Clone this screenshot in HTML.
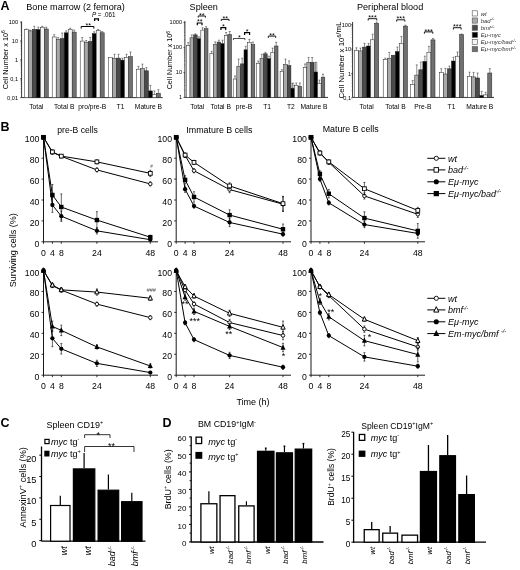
<!DOCTYPE html>
<html><head><meta charset="utf-8"><style>
html,body{margin:0;padding:0;background:#fff;}
svg{display:block;will-change:transform;}
text{font-family:"Liberation Sans", sans-serif;}
</style></head><body>
<svg width="520" height="570" viewBox="0 0 520 570" font-family='"Liberation Sans", sans-serif'>
<rect width="520" height="570" fill="#fff"/>
<text x="0.50" y="10.00" font-size="12.5" font-weight="bold">A</text>
<text x="26.30" y="9.60" font-size="9.1">Bone marrow (2 femora)</text>
<text x="189.60" y="9.60" font-size="9.1">Spleen</text>
<text x="357.00" y="9.60" font-size="9.1">Peripheral blood</text>
<line x1="21.60" y1="21.50" x2="21.60" y2="97.60" stroke="#000" stroke-width="0.8"/>
<line x1="20.10" y1="22.00" x2="21.60" y2="22.00" stroke="#000" stroke-width="0.6"/>
<text x="18.00" y="24.02" font-size="5.6" text-anchor="end">100</text>
<line x1="20.10" y1="40.90" x2="21.60" y2="40.90" stroke="#000" stroke-width="0.6"/>
<text x="18.00" y="42.92" font-size="5.6" text-anchor="end">10</text>
<line x1="20.10" y1="59.80" x2="21.60" y2="59.80" stroke="#000" stroke-width="0.6"/>
<text x="18.00" y="61.82" font-size="5.6" text-anchor="end">1</text>
<line x1="20.10" y1="78.70" x2="21.60" y2="78.70" stroke="#000" stroke-width="0.6"/>
<text x="18.00" y="80.72" font-size="5.6" text-anchor="end">0,1</text>
<line x1="20.10" y1="97.60" x2="21.60" y2="97.60" stroke="#000" stroke-width="0.6"/>
<text x="18.00" y="99.62" font-size="5.6" text-anchor="end">0,01</text>
<line x1="20.60" y1="91.91" x2="21.60" y2="91.91" stroke="#333" stroke-width="0.5"/>
<line x1="20.60" y1="88.58" x2="21.60" y2="88.58" stroke="#333" stroke-width="0.5"/>
<line x1="20.60" y1="86.22" x2="21.60" y2="86.22" stroke="#333" stroke-width="0.5"/>
<line x1="20.60" y1="84.39" x2="21.60" y2="84.39" stroke="#333" stroke-width="0.5"/>
<line x1="20.60" y1="82.89" x2="21.60" y2="82.89" stroke="#333" stroke-width="0.5"/>
<line x1="20.60" y1="81.63" x2="21.60" y2="81.63" stroke="#333" stroke-width="0.5"/>
<line x1="20.60" y1="80.53" x2="21.60" y2="80.53" stroke="#333" stroke-width="0.5"/>
<line x1="20.60" y1="79.56" x2="21.60" y2="79.56" stroke="#333" stroke-width="0.5"/>
<line x1="20.60" y1="73.01" x2="21.60" y2="73.01" stroke="#333" stroke-width="0.5"/>
<line x1="20.60" y1="69.68" x2="21.60" y2="69.68" stroke="#333" stroke-width="0.5"/>
<line x1="20.60" y1="67.32" x2="21.60" y2="67.32" stroke="#333" stroke-width="0.5"/>
<line x1="20.60" y1="65.49" x2="21.60" y2="65.49" stroke="#333" stroke-width="0.5"/>
<line x1="20.60" y1="63.99" x2="21.60" y2="63.99" stroke="#333" stroke-width="0.5"/>
<line x1="20.60" y1="62.73" x2="21.60" y2="62.73" stroke="#333" stroke-width="0.5"/>
<line x1="20.60" y1="61.63" x2="21.60" y2="61.63" stroke="#333" stroke-width="0.5"/>
<line x1="20.60" y1="60.66" x2="21.60" y2="60.66" stroke="#333" stroke-width="0.5"/>
<line x1="20.60" y1="54.11" x2="21.60" y2="54.11" stroke="#333" stroke-width="0.5"/>
<line x1="20.60" y1="50.78" x2="21.60" y2="50.78" stroke="#333" stroke-width="0.5"/>
<line x1="20.60" y1="48.42" x2="21.60" y2="48.42" stroke="#333" stroke-width="0.5"/>
<line x1="20.60" y1="46.59" x2="21.60" y2="46.59" stroke="#333" stroke-width="0.5"/>
<line x1="20.60" y1="45.09" x2="21.60" y2="45.09" stroke="#333" stroke-width="0.5"/>
<line x1="20.60" y1="43.83" x2="21.60" y2="43.83" stroke="#333" stroke-width="0.5"/>
<line x1="20.60" y1="42.73" x2="21.60" y2="42.73" stroke="#333" stroke-width="0.5"/>
<line x1="20.60" y1="41.76" x2="21.60" y2="41.76" stroke="#333" stroke-width="0.5"/>
<line x1="20.60" y1="35.21" x2="21.60" y2="35.21" stroke="#333" stroke-width="0.5"/>
<line x1="20.60" y1="31.88" x2="21.60" y2="31.88" stroke="#333" stroke-width="0.5"/>
<line x1="20.60" y1="29.52" x2="21.60" y2="29.52" stroke="#333" stroke-width="0.5"/>
<line x1="20.60" y1="27.69" x2="21.60" y2="27.69" stroke="#333" stroke-width="0.5"/>
<line x1="20.60" y1="26.19" x2="21.60" y2="26.19" stroke="#333" stroke-width="0.5"/>
<line x1="20.60" y1="24.93" x2="21.60" y2="24.93" stroke="#333" stroke-width="0.5"/>
<line x1="20.60" y1="23.83" x2="21.60" y2="23.83" stroke="#333" stroke-width="0.5"/>
<line x1="20.60" y1="22.86" x2="21.60" y2="22.86" stroke="#333" stroke-width="0.5"/>
<line x1="21.60" y1="97.60" x2="162.70" y2="97.60" stroke="#000" stroke-width="0.8"/>
<line x1="26.30" y1="29.50" x2="26.30" y2="29.00" stroke="#333" stroke-width="0.55"/>
<line x1="25.30" y1="29.00" x2="27.30" y2="29.00" stroke="#333" stroke-width="0.55"/>
<rect x="24.30" y="29.50" width="4.00" height="68.10" fill="#ffffff" stroke="#222" stroke-width="0.5"/>
<line x1="30.30" y1="30.90" x2="30.30" y2="30.10" stroke="#333" stroke-width="0.55"/>
<line x1="29.30" y1="30.10" x2="31.30" y2="30.10" stroke="#333" stroke-width="0.55"/>
<rect x="28.30" y="30.90" width="4.00" height="66.70" fill="#a8a8a8" stroke="#222" stroke-width="0.5"/>
<line x1="34.30" y1="29.30" x2="34.30" y2="26.30" stroke="#333" stroke-width="0.55"/>
<line x1="33.30" y1="26.30" x2="35.30" y2="26.30" stroke="#333" stroke-width="0.55"/>
<rect x="32.30" y="29.30" width="4.00" height="68.30" fill="#4a4a4a" stroke="#222" stroke-width="0.5"/>
<line x1="38.30" y1="29.50" x2="38.30" y2="27.20" stroke="#333" stroke-width="0.55"/>
<line x1="37.30" y1="27.20" x2="39.30" y2="27.20" stroke="#333" stroke-width="0.55"/>
<rect x="36.30" y="29.50" width="4.00" height="68.10" fill="#000000" stroke="#222" stroke-width="0.5"/>
<line x1="42.30" y1="27.20" x2="42.30" y2="26.30" stroke="#333" stroke-width="0.55"/>
<line x1="41.30" y1="26.30" x2="43.30" y2="26.30" stroke="#333" stroke-width="0.55"/>
<rect x="40.30" y="27.20" width="4.00" height="70.40" fill="#f4f4f4" stroke="#222" stroke-width="0.5"/>
<line x1="46.30" y1="29.00" x2="46.30" y2="27.20" stroke="#333" stroke-width="0.55"/>
<line x1="45.30" y1="27.20" x2="47.30" y2="27.20" stroke="#333" stroke-width="0.55"/>
<rect x="44.30" y="29.00" width="4.00" height="68.60" fill="#707070" stroke="#222" stroke-width="0.5"/>
<line x1="54.20" y1="37.00" x2="54.20" y2="34.70" stroke="#333" stroke-width="0.55"/>
<line x1="53.20" y1="34.70" x2="55.20" y2="34.70" stroke="#333" stroke-width="0.55"/>
<rect x="52.20" y="37.00" width="4.00" height="60.60" fill="#ffffff" stroke="#222" stroke-width="0.5"/>
<line x1="58.20" y1="39.30" x2="58.20" y2="37.60" stroke="#333" stroke-width="0.55"/>
<line x1="57.20" y1="37.60" x2="59.20" y2="37.60" stroke="#333" stroke-width="0.55"/>
<rect x="56.20" y="39.30" width="4.00" height="58.30" fill="#a8a8a8" stroke="#222" stroke-width="0.5"/>
<line x1="62.20" y1="38.50" x2="62.20" y2="33.00" stroke="#333" stroke-width="0.55"/>
<line x1="61.20" y1="33.00" x2="63.20" y2="33.00" stroke="#333" stroke-width="0.55"/>
<rect x="60.20" y="38.50" width="4.00" height="59.10" fill="#4a4a4a" stroke="#222" stroke-width="0.5"/>
<line x1="66.20" y1="32.80" x2="66.20" y2="30.90" stroke="#333" stroke-width="0.55"/>
<line x1="65.20" y1="30.90" x2="67.20" y2="30.90" stroke="#333" stroke-width="0.55"/>
<rect x="64.20" y="32.80" width="4.00" height="64.80" fill="#000000" stroke="#222" stroke-width="0.5"/>
<line x1="70.20" y1="29.50" x2="70.20" y2="28.20" stroke="#333" stroke-width="0.55"/>
<line x1="69.20" y1="28.20" x2="71.20" y2="28.20" stroke="#333" stroke-width="0.55"/>
<rect x="68.20" y="29.50" width="4.00" height="68.10" fill="#f4f4f4" stroke="#222" stroke-width="0.5"/>
<line x1="74.20" y1="32.10" x2="74.20" y2="30.10" stroke="#333" stroke-width="0.55"/>
<line x1="73.20" y1="30.10" x2="75.20" y2="30.10" stroke="#333" stroke-width="0.55"/>
<rect x="72.20" y="32.10" width="4.00" height="65.50" fill="#707070" stroke="#222" stroke-width="0.5"/>
<line x1="82.20" y1="41.10" x2="82.20" y2="37.60" stroke="#333" stroke-width="0.55"/>
<line x1="81.20" y1="37.60" x2="83.20" y2="37.60" stroke="#333" stroke-width="0.55"/>
<rect x="80.20" y="41.10" width="4.00" height="56.50" fill="#ffffff" stroke="#222" stroke-width="0.5"/>
<line x1="86.20" y1="42.50" x2="86.20" y2="40.50" stroke="#333" stroke-width="0.55"/>
<line x1="85.20" y1="40.50" x2="87.20" y2="40.50" stroke="#333" stroke-width="0.55"/>
<rect x="84.20" y="42.50" width="4.00" height="55.10" fill="#a8a8a8" stroke="#222" stroke-width="0.5"/>
<line x1="90.20" y1="41.40" x2="90.20" y2="37.40" stroke="#333" stroke-width="0.55"/>
<line x1="89.20" y1="37.40" x2="91.20" y2="37.40" stroke="#333" stroke-width="0.55"/>
<rect x="88.20" y="41.40" width="4.00" height="56.20" fill="#4a4a4a" stroke="#222" stroke-width="0.5"/>
<line x1="94.20" y1="33.60" x2="94.20" y2="31.80" stroke="#333" stroke-width="0.55"/>
<line x1="93.20" y1="31.80" x2="95.20" y2="31.80" stroke="#333" stroke-width="0.55"/>
<rect x="92.20" y="33.60" width="4.00" height="64.00" fill="#000000" stroke="#222" stroke-width="0.5"/>
<line x1="98.20" y1="30.70" x2="98.20" y2="29.50" stroke="#333" stroke-width="0.55"/>
<line x1="97.20" y1="29.50" x2="99.20" y2="29.50" stroke="#333" stroke-width="0.55"/>
<rect x="96.20" y="30.70" width="4.00" height="66.90" fill="#f4f4f4" stroke="#222" stroke-width="0.5"/>
<line x1="102.20" y1="32.80" x2="102.20" y2="31.60" stroke="#333" stroke-width="0.55"/>
<line x1="101.20" y1="31.60" x2="103.20" y2="31.60" stroke="#333" stroke-width="0.55"/>
<rect x="100.20" y="32.80" width="4.00" height="64.80" fill="#707070" stroke="#222" stroke-width="0.5"/>
<rect x="108.50" y="57.60" width="4.00" height="40.00" fill="#ffffff" stroke="#222" stroke-width="0.5"/>
<line x1="114.50" y1="58.40" x2="114.50" y2="54.30" stroke="#333" stroke-width="0.55"/>
<line x1="113.50" y1="54.30" x2="115.50" y2="54.30" stroke="#333" stroke-width="0.55"/>
<rect x="112.50" y="58.40" width="4.00" height="39.20" fill="#a8a8a8" stroke="#222" stroke-width="0.5"/>
<line x1="118.50" y1="58.10" x2="118.50" y2="54.30" stroke="#333" stroke-width="0.55"/>
<line x1="117.50" y1="54.30" x2="119.50" y2="54.30" stroke="#333" stroke-width="0.55"/>
<rect x="116.50" y="58.10" width="4.00" height="39.50" fill="#4a4a4a" stroke="#222" stroke-width="0.5"/>
<line x1="122.50" y1="60.10" x2="122.50" y2="58.10" stroke="#333" stroke-width="0.55"/>
<line x1="121.50" y1="58.10" x2="123.50" y2="58.10" stroke="#333" stroke-width="0.55"/>
<rect x="120.50" y="60.10" width="4.00" height="37.50" fill="#000000" stroke="#222" stroke-width="0.5"/>
<line x1="126.50" y1="57.60" x2="126.50" y2="54.30" stroke="#333" stroke-width="0.55"/>
<line x1="125.50" y1="54.30" x2="127.50" y2="54.30" stroke="#333" stroke-width="0.55"/>
<rect x="124.50" y="57.60" width="4.00" height="40.00" fill="#f4f4f4" stroke="#222" stroke-width="0.5"/>
<line x1="130.50" y1="56.60" x2="130.50" y2="52.00" stroke="#333" stroke-width="0.55"/>
<line x1="129.50" y1="52.00" x2="131.50" y2="52.00" stroke="#333" stroke-width="0.55"/>
<rect x="128.50" y="56.60" width="4.00" height="41.00" fill="#707070" stroke="#222" stroke-width="0.5"/>
<line x1="138.40" y1="69.20" x2="138.40" y2="66.40" stroke="#333" stroke-width="0.55"/>
<line x1="137.40" y1="66.40" x2="139.40" y2="66.40" stroke="#333" stroke-width="0.55"/>
<rect x="136.40" y="69.20" width="4.00" height="28.40" fill="#ffffff" stroke="#222" stroke-width="0.5"/>
<line x1="142.40" y1="68.40" x2="142.40" y2="64.10" stroke="#333" stroke-width="0.55"/>
<line x1="141.40" y1="64.10" x2="143.40" y2="64.10" stroke="#333" stroke-width="0.55"/>
<rect x="140.40" y="68.40" width="4.00" height="29.20" fill="#a8a8a8" stroke="#222" stroke-width="0.5"/>
<line x1="146.40" y1="70.80" x2="146.40" y2="67.60" stroke="#333" stroke-width="0.55"/>
<line x1="145.40" y1="67.60" x2="147.40" y2="67.60" stroke="#333" stroke-width="0.55"/>
<rect x="144.40" y="70.80" width="4.00" height="26.80" fill="#4a4a4a" stroke="#222" stroke-width="0.5"/>
<line x1="150.40" y1="90.90" x2="150.40" y2="85.40" stroke="#333" stroke-width="0.55"/>
<line x1="149.40" y1="85.40" x2="151.40" y2="85.40" stroke="#333" stroke-width="0.55"/>
<rect x="148.40" y="90.90" width="4.00" height="6.70" fill="#000000" stroke="#222" stroke-width="0.5"/>
<line x1="154.40" y1="94.40" x2="154.40" y2="90.90" stroke="#333" stroke-width="0.55"/>
<line x1="153.40" y1="90.90" x2="155.40" y2="90.90" stroke="#333" stroke-width="0.55"/>
<rect x="152.40" y="94.40" width="4.00" height="3.20" fill="#f4f4f4" stroke="#222" stroke-width="0.5"/>
<line x1="158.40" y1="93.20" x2="158.40" y2="89.70" stroke="#333" stroke-width="0.55"/>
<line x1="157.40" y1="89.70" x2="159.40" y2="89.70" stroke="#333" stroke-width="0.55"/>
<rect x="156.40" y="93.20" width="4.00" height="4.40" fill="#707070" stroke="#222" stroke-width="0.5"/>
<text x="7.60" y="59.70" font-size="7.3" text-anchor="middle" transform="rotate(-90 7.60 59.70)">Cell Number x 10<tspan font-size="5" dy="-2.6">6</tspan></text>
<text x="36.30" y="109.40" font-size="6.7" text-anchor="middle">Total</text>
<text x="64.20" y="109.40" font-size="6.7" text-anchor="middle">Total B</text>
<text x="92.20" y="109.40" font-size="6.7" text-anchor="middle">pro/pre-B</text>
<text x="120.50" y="109.40" font-size="6.7" text-anchor="middle">T1</text>
<text x="148.40" y="109.40" font-size="6.7" text-anchor="middle">Mature B</text>
<text x="91.90" y="16.70" font-size="6.3"><tspan font-style="italic">P</tspan> = .061</text>
<path d="M94.6,21 L94.6,18.8 L98.4,18.8 L98.4,21" fill="none" stroke="#000" stroke-width="1.3"/>
<polyline points="81.20,28.60 81.20,26.50 93.90,26.50 93.90,28.60" fill="none" stroke="#000" stroke-width="1.0"/>
<text x="88.20" y="27.97" font-size="7.2" text-anchor="middle">**</text>
<line x1="184.90" y1="21.00" x2="184.90" y2="97.40" stroke="#000" stroke-width="0.8"/>
<line x1="183.40" y1="22.40" x2="184.90" y2="22.40" stroke="#000" stroke-width="0.6"/>
<text x="182.00" y="24.42" font-size="5.6" text-anchor="end">1000</text>
<line x1="183.40" y1="47.40" x2="184.90" y2="47.40" stroke="#000" stroke-width="0.6"/>
<text x="182.00" y="49.42" font-size="5.6" text-anchor="end">100</text>
<line x1="183.40" y1="72.40" x2="184.90" y2="72.40" stroke="#000" stroke-width="0.6"/>
<text x="182.00" y="74.42" font-size="5.6" text-anchor="end">10</text>
<line x1="183.40" y1="97.40" x2="184.90" y2="97.40" stroke="#000" stroke-width="0.6"/>
<text x="182.00" y="99.42" font-size="5.6" text-anchor="end">1</text>
<line x1="183.90" y1="89.87" x2="184.90" y2="89.87" stroke="#333" stroke-width="0.5"/>
<line x1="183.90" y1="85.47" x2="184.90" y2="85.47" stroke="#333" stroke-width="0.5"/>
<line x1="183.90" y1="82.35" x2="184.90" y2="82.35" stroke="#333" stroke-width="0.5"/>
<line x1="183.90" y1="79.93" x2="184.90" y2="79.93" stroke="#333" stroke-width="0.5"/>
<line x1="183.90" y1="77.95" x2="184.90" y2="77.95" stroke="#333" stroke-width="0.5"/>
<line x1="183.90" y1="76.27" x2="184.90" y2="76.27" stroke="#333" stroke-width="0.5"/>
<line x1="183.90" y1="74.82" x2="184.90" y2="74.82" stroke="#333" stroke-width="0.5"/>
<line x1="183.90" y1="73.54" x2="184.90" y2="73.54" stroke="#333" stroke-width="0.5"/>
<line x1="183.90" y1="64.87" x2="184.90" y2="64.87" stroke="#333" stroke-width="0.5"/>
<line x1="183.90" y1="60.47" x2="184.90" y2="60.47" stroke="#333" stroke-width="0.5"/>
<line x1="183.90" y1="57.35" x2="184.90" y2="57.35" stroke="#333" stroke-width="0.5"/>
<line x1="183.90" y1="54.93" x2="184.90" y2="54.93" stroke="#333" stroke-width="0.5"/>
<line x1="183.90" y1="52.95" x2="184.90" y2="52.95" stroke="#333" stroke-width="0.5"/>
<line x1="183.90" y1="51.27" x2="184.90" y2="51.27" stroke="#333" stroke-width="0.5"/>
<line x1="183.90" y1="49.82" x2="184.90" y2="49.82" stroke="#333" stroke-width="0.5"/>
<line x1="183.90" y1="48.54" x2="184.90" y2="48.54" stroke="#333" stroke-width="0.5"/>
<line x1="183.90" y1="39.87" x2="184.90" y2="39.87" stroke="#333" stroke-width="0.5"/>
<line x1="183.90" y1="35.47" x2="184.90" y2="35.47" stroke="#333" stroke-width="0.5"/>
<line x1="183.90" y1="32.35" x2="184.90" y2="32.35" stroke="#333" stroke-width="0.5"/>
<line x1="183.90" y1="29.93" x2="184.90" y2="29.93" stroke="#333" stroke-width="0.5"/>
<line x1="183.90" y1="27.95" x2="184.90" y2="27.95" stroke="#333" stroke-width="0.5"/>
<line x1="183.90" y1="26.27" x2="184.90" y2="26.27" stroke="#333" stroke-width="0.5"/>
<line x1="183.90" y1="24.82" x2="184.90" y2="24.82" stroke="#333" stroke-width="0.5"/>
<line x1="183.90" y1="23.54" x2="184.90" y2="23.54" stroke="#333" stroke-width="0.5"/>
<line x1="184.90" y1="97.40" x2="328.00" y2="97.40" stroke="#000" stroke-width="0.8"/>
<rect x="290.90" y="83.00" width="3.60" height="5.20" fill="#d0d0d0" stroke="none" stroke-width="0"/>
<rect x="314.00" y="62.30" width="3.60" height="9.70" fill="#c8c8c8" stroke="none" stroke-width="0"/>
<line x1="188.20" y1="45.50" x2="188.20" y2="42.60" stroke="#333" stroke-width="0.55"/>
<line x1="187.20" y1="42.60" x2="189.20" y2="42.60" stroke="#333" stroke-width="0.55"/>
<rect x="186.40" y="45.50" width="3.60" height="51.90" fill="#ffffff" stroke="#222" stroke-width="0.5"/>
<line x1="191.80" y1="37.80" x2="191.80" y2="34.90" stroke="#333" stroke-width="0.55"/>
<line x1="190.80" y1="34.90" x2="192.80" y2="34.90" stroke="#333" stroke-width="0.55"/>
<rect x="190.00" y="37.80" width="3.60" height="59.60" fill="#a8a8a8" stroke="#222" stroke-width="0.5"/>
<line x1="195.40" y1="34.90" x2="195.40" y2="33.90" stroke="#333" stroke-width="0.55"/>
<line x1="194.40" y1="33.90" x2="196.40" y2="33.90" stroke="#333" stroke-width="0.55"/>
<rect x="193.60" y="34.90" width="3.60" height="62.50" fill="#4a4a4a" stroke="#222" stroke-width="0.5"/>
<line x1="199.00" y1="38.75" x2="199.00" y2="36.80" stroke="#333" stroke-width="0.55"/>
<line x1="198.00" y1="36.80" x2="200.00" y2="36.80" stroke="#333" stroke-width="0.55"/>
<rect x="197.20" y="38.75" width="3.60" height="58.65" fill="#000000" stroke="#222" stroke-width="0.5"/>
<line x1="202.60" y1="30.10" x2="202.60" y2="27.70" stroke="#333" stroke-width="0.55"/>
<line x1="201.60" y1="27.70" x2="203.60" y2="27.70" stroke="#333" stroke-width="0.55"/>
<rect x="200.80" y="30.10" width="3.60" height="67.30" fill="#f4f4f4" stroke="#222" stroke-width="0.5"/>
<line x1="206.20" y1="28.70" x2="206.20" y2="26.70" stroke="#333" stroke-width="0.55"/>
<line x1="205.20" y1="26.70" x2="207.20" y2="26.70" stroke="#333" stroke-width="0.55"/>
<rect x="204.40" y="28.70" width="3.60" height="68.70" fill="#707070" stroke="#222" stroke-width="0.5"/>
<line x1="211.70" y1="53.70" x2="211.70" y2="51.25" stroke="#333" stroke-width="0.55"/>
<line x1="210.70" y1="51.25" x2="212.70" y2="51.25" stroke="#333" stroke-width="0.55"/>
<rect x="209.90" y="53.70" width="3.60" height="43.70" fill="#ffffff" stroke="#222" stroke-width="0.5"/>
<line x1="215.30" y1="44.50" x2="215.30" y2="41.90" stroke="#333" stroke-width="0.55"/>
<line x1="214.30" y1="41.90" x2="216.30" y2="41.90" stroke="#333" stroke-width="0.55"/>
<rect x="213.50" y="44.50" width="3.60" height="52.90" fill="#a8a8a8" stroke="#222" stroke-width="0.5"/>
<line x1="218.90" y1="42.10" x2="218.90" y2="40.20" stroke="#333" stroke-width="0.55"/>
<line x1="217.90" y1="40.20" x2="219.90" y2="40.20" stroke="#333" stroke-width="0.55"/>
<rect x="217.10" y="42.10" width="3.60" height="55.30" fill="#4a4a4a" stroke="#222" stroke-width="0.5"/>
<line x1="222.50" y1="43.60" x2="222.50" y2="40.20" stroke="#333" stroke-width="0.55"/>
<line x1="221.50" y1="40.20" x2="223.50" y2="40.20" stroke="#333" stroke-width="0.55"/>
<rect x="220.70" y="43.60" width="3.60" height="53.80" fill="#000000" stroke="#222" stroke-width="0.5"/>
<line x1="226.10" y1="35.40" x2="226.10" y2="32.50" stroke="#333" stroke-width="0.55"/>
<line x1="225.10" y1="32.50" x2="227.10" y2="32.50" stroke="#333" stroke-width="0.55"/>
<rect x="224.30" y="35.40" width="3.60" height="62.00" fill="#f4f4f4" stroke="#222" stroke-width="0.5"/>
<line x1="229.70" y1="34.40" x2="229.70" y2="31.50" stroke="#333" stroke-width="0.55"/>
<line x1="228.70" y1="31.50" x2="230.70" y2="31.50" stroke="#333" stroke-width="0.55"/>
<rect x="227.90" y="34.40" width="3.60" height="63.00" fill="#707070" stroke="#222" stroke-width="0.5"/>
<line x1="235.00" y1="79.00" x2="235.00" y2="76.00" stroke="#333" stroke-width="0.55"/>
<line x1="234.00" y1="76.00" x2="236.00" y2="76.00" stroke="#333" stroke-width="0.55"/>
<rect x="233.20" y="79.00" width="3.60" height="18.40" fill="#ffffff" stroke="#222" stroke-width="0.5"/>
<line x1="238.60" y1="66.30" x2="238.60" y2="59.10" stroke="#333" stroke-width="0.55"/>
<line x1="237.60" y1="59.10" x2="239.60" y2="59.10" stroke="#333" stroke-width="0.55"/>
<rect x="236.80" y="66.30" width="3.60" height="31.10" fill="#a8a8a8" stroke="#222" stroke-width="0.5"/>
<line x1="242.20" y1="63.90" x2="242.20" y2="58.20" stroke="#333" stroke-width="0.55"/>
<line x1="241.20" y1="58.20" x2="243.20" y2="58.20" stroke="#333" stroke-width="0.55"/>
<rect x="240.40" y="63.90" width="3.60" height="33.50" fill="#4a4a4a" stroke="#222" stroke-width="0.5"/>
<line x1="245.80" y1="49.80" x2="245.80" y2="46.20" stroke="#333" stroke-width="0.55"/>
<line x1="244.80" y1="46.20" x2="246.80" y2="46.20" stroke="#333" stroke-width="0.55"/>
<rect x="244.00" y="49.80" width="3.60" height="47.60" fill="#000000" stroke="#222" stroke-width="0.5"/>
<line x1="249.40" y1="42.30" x2="249.40" y2="39.40" stroke="#333" stroke-width="0.55"/>
<line x1="248.40" y1="39.40" x2="250.40" y2="39.40" stroke="#333" stroke-width="0.55"/>
<rect x="247.60" y="42.30" width="3.60" height="55.10" fill="#f4f4f4" stroke="#222" stroke-width="0.5"/>
<line x1="253.00" y1="44.70" x2="253.00" y2="42.10" stroke="#333" stroke-width="0.55"/>
<line x1="252.00" y1="42.10" x2="254.00" y2="42.10" stroke="#333" stroke-width="0.55"/>
<rect x="251.20" y="44.70" width="3.60" height="52.70" fill="#707070" stroke="#222" stroke-width="0.5"/>
<line x1="258.20" y1="63.30" x2="258.20" y2="61.10" stroke="#333" stroke-width="0.55"/>
<line x1="257.20" y1="61.10" x2="259.20" y2="61.10" stroke="#333" stroke-width="0.55"/>
<rect x="256.40" y="63.30" width="3.60" height="34.10" fill="#ffffff" stroke="#222" stroke-width="0.5"/>
<line x1="261.80" y1="58.50" x2="261.80" y2="54.30" stroke="#333" stroke-width="0.55"/>
<line x1="260.80" y1="54.30" x2="262.80" y2="54.30" stroke="#333" stroke-width="0.55"/>
<rect x="260.00" y="58.50" width="3.60" height="38.90" fill="#a8a8a8" stroke="#222" stroke-width="0.5"/>
<line x1="265.40" y1="53.80" x2="265.40" y2="52.40" stroke="#333" stroke-width="0.55"/>
<line x1="264.40" y1="52.40" x2="266.40" y2="52.40" stroke="#333" stroke-width="0.55"/>
<rect x="263.60" y="53.80" width="3.60" height="43.60" fill="#4a4a4a" stroke="#222" stroke-width="0.5"/>
<line x1="269.00" y1="58.70" x2="269.00" y2="56.25" stroke="#333" stroke-width="0.55"/>
<line x1="268.00" y1="56.25" x2="270.00" y2="56.25" stroke="#333" stroke-width="0.55"/>
<rect x="267.20" y="58.70" width="3.60" height="38.70" fill="#000000" stroke="#222" stroke-width="0.5"/>
<line x1="272.60" y1="52.40" x2="272.60" y2="48.10" stroke="#333" stroke-width="0.55"/>
<line x1="271.60" y1="48.10" x2="273.60" y2="48.10" stroke="#333" stroke-width="0.55"/>
<rect x="270.80" y="52.40" width="3.60" height="45.00" fill="#f4f4f4" stroke="#222" stroke-width="0.5"/>
<line x1="276.20" y1="46.00" x2="276.20" y2="42.30" stroke="#333" stroke-width="0.55"/>
<line x1="275.20" y1="42.30" x2="277.20" y2="42.30" stroke="#333" stroke-width="0.55"/>
<rect x="274.40" y="46.00" width="3.60" height="51.40" fill="#707070" stroke="#222" stroke-width="0.5"/>
<line x1="281.90" y1="71.30" x2="281.90" y2="69.70" stroke="#333" stroke-width="0.55"/>
<line x1="280.90" y1="69.70" x2="282.90" y2="69.70" stroke="#333" stroke-width="0.55"/>
<rect x="280.10" y="71.30" width="3.60" height="26.10" fill="#ffffff" stroke="#222" stroke-width="0.5"/>
<line x1="285.50" y1="64.50" x2="285.50" y2="59.10" stroke="#333" stroke-width="0.55"/>
<line x1="284.50" y1="59.10" x2="286.50" y2="59.10" stroke="#333" stroke-width="0.55"/>
<rect x="283.70" y="64.50" width="3.60" height="32.90" fill="#a8a8a8" stroke="#222" stroke-width="0.5"/>
<line x1="289.10" y1="65.60" x2="289.10" y2="60.90" stroke="#333" stroke-width="0.55"/>
<line x1="288.10" y1="60.90" x2="290.10" y2="60.90" stroke="#333" stroke-width="0.55"/>
<rect x="287.30" y="65.60" width="3.60" height="31.80" fill="#4a4a4a" stroke="#222" stroke-width="0.5"/>
<line x1="292.70" y1="88.20" x2="292.70" y2="83.00" stroke="#333" stroke-width="0.55"/>
<line x1="291.70" y1="83.00" x2="293.70" y2="83.00" stroke="#333" stroke-width="0.55"/>
<rect x="290.90" y="88.20" width="3.60" height="9.20" fill="#000000" stroke="#222" stroke-width="0.5"/>
<line x1="296.30" y1="85.30" x2="296.30" y2="83.00" stroke="#333" stroke-width="0.55"/>
<line x1="295.30" y1="83.00" x2="297.30" y2="83.00" stroke="#333" stroke-width="0.55"/>
<rect x="294.50" y="85.30" width="3.60" height="12.10" fill="#f4f4f4" stroke="#222" stroke-width="0.5"/>
<line x1="299.90" y1="86.30" x2="299.90" y2="83.00" stroke="#333" stroke-width="0.55"/>
<line x1="298.90" y1="83.00" x2="300.90" y2="83.00" stroke="#333" stroke-width="0.55"/>
<rect x="298.10" y="86.30" width="3.60" height="11.10" fill="#707070" stroke="#222" stroke-width="0.5"/>
<line x1="305.00" y1="67.70" x2="305.00" y2="64.00" stroke="#333" stroke-width="0.55"/>
<line x1="304.00" y1="64.00" x2="306.00" y2="64.00" stroke="#333" stroke-width="0.55"/>
<rect x="303.20" y="67.70" width="3.60" height="29.70" fill="#ffffff" stroke="#222" stroke-width="0.5"/>
<line x1="308.60" y1="62.30" x2="308.60" y2="57.50" stroke="#333" stroke-width="0.55"/>
<line x1="307.60" y1="57.50" x2="309.60" y2="57.50" stroke="#333" stroke-width="0.55"/>
<rect x="306.80" y="62.30" width="3.60" height="35.10" fill="#a8a8a8" stroke="#222" stroke-width="0.5"/>
<line x1="312.20" y1="62.30" x2="312.20" y2="57.50" stroke="#333" stroke-width="0.55"/>
<line x1="311.20" y1="57.50" x2="313.20" y2="57.50" stroke="#333" stroke-width="0.55"/>
<rect x="310.40" y="62.30" width="3.60" height="35.10" fill="#4a4a4a" stroke="#222" stroke-width="0.5"/>
<line x1="315.80" y1="72.00" x2="315.80" y2="62.30" stroke="#333" stroke-width="0.55"/>
<line x1="314.80" y1="62.30" x2="316.80" y2="62.30" stroke="#333" stroke-width="0.55"/>
<rect x="314.00" y="72.00" width="3.60" height="25.40" fill="#000000" stroke="#222" stroke-width="0.5"/>
<line x1="319.40" y1="83.40" x2="319.40" y2="80.10" stroke="#333" stroke-width="0.55"/>
<line x1="318.40" y1="80.10" x2="320.40" y2="80.10" stroke="#333" stroke-width="0.55"/>
<rect x="317.60" y="83.40" width="3.60" height="14.00" fill="#f4f4f4" stroke="#222" stroke-width="0.5"/>
<line x1="323.00" y1="77.20" x2="323.00" y2="74.10" stroke="#333" stroke-width="0.55"/>
<line x1="322.00" y1="74.10" x2="324.00" y2="74.10" stroke="#333" stroke-width="0.55"/>
<rect x="321.20" y="77.20" width="3.60" height="20.20" fill="#707070" stroke="#222" stroke-width="0.5"/>
<text x="172.50" y="60.20" font-size="7.2" text-anchor="middle" transform="rotate(-90 172.50 60.20)">Cell Number x 10<tspan font-size="5" dy="-2.6">6</tspan></text>
<text x="197.20" y="109.40" font-size="6.7" text-anchor="middle">Total</text>
<text x="220.70" y="109.40" font-size="6.7" text-anchor="middle">Total B</text>
<text x="244.00" y="109.40" font-size="6.7" text-anchor="middle">pre-B</text>
<text x="267.20" y="109.40" font-size="6.7" text-anchor="middle">T1</text>
<text x="290.90" y="109.40" font-size="6.7" text-anchor="middle">T2</text>
<text x="314.00" y="109.40" font-size="6.7" text-anchor="middle">Mature B</text>
<polyline points="198.20,17.60 198.20,16.00 205.40,16.00 205.40,17.60" fill="none" stroke="#000" stroke-width="0.9"/>
<text x="201.80" y="17.67" font-size="7.2" text-anchor="middle">**</text>
<text x="199.70" y="24.47" font-size="7.2" text-anchor="middle">**</text>
<path d="M197.3,25.2 L197.3,23.0 L202.0,23.0 L202.0,25.2" fill="none" stroke="#000" stroke-width="1.2"/>
<polyline points="221.30,21.00 221.30,19.40 229.00,19.40 229.00,21.00" fill="none" stroke="#000" stroke-width="0.9"/>
<text x="225.20" y="20.87" font-size="7.2" text-anchor="middle">**</text>
<text x="223.30" y="28.87" font-size="7.2" text-anchor="middle">*</text>
<path d="M220.9,30.0 L220.9,27.6 L225.7,27.6 L225.7,30.0" fill="none" stroke="#000" stroke-width="1.2"/>
<polyline points="233.40,40.10 233.40,38.50 244.90,38.50 244.90,40.10" fill="none" stroke="#000" stroke-width="0.7"/>
<text x="239.40" y="39.67" font-size="7.2" text-anchor="middle">*</text>
<text x="247.20" y="33.97" font-size="7.2" text-anchor="middle">*</text>
<path d="M244.6,35.0 L244.6,32.6 L249.6,32.6 L249.6,35.0" fill="none" stroke="#000" stroke-width="1.2"/>
<polyline points="268.30,37.90 268.30,36.10 275.70,36.10 275.70,37.90" fill="none" stroke="#000" stroke-width="0.9"/>
<text x="272.00" y="37.67" font-size="7.2" text-anchor="middle">**</text>
<line x1="352.60" y1="22.00" x2="352.60" y2="97.40" stroke="#000" stroke-width="0.8"/>
<line x1="351.10" y1="24.70" x2="352.60" y2="24.70" stroke="#000" stroke-width="0.6"/>
<text x="351.00" y="26.72" font-size="5.6" text-anchor="end">100</text>
<line x1="351.10" y1="49.10" x2="352.60" y2="49.10" stroke="#000" stroke-width="0.6"/>
<text x="351.00" y="51.12" font-size="5.6" text-anchor="end">10</text>
<line x1="351.10" y1="73.50" x2="352.60" y2="73.50" stroke="#000" stroke-width="0.6"/>
<text x="351.00" y="75.52" font-size="5.6" text-anchor="end">1</text>
<line x1="351.10" y1="97.90" x2="352.60" y2="97.90" stroke="#000" stroke-width="0.6"/>
<text x="351.00" y="99.92" font-size="5.6" text-anchor="end">0,1</text>
<line x1="351.60" y1="90.55" x2="352.60" y2="90.55" stroke="#333" stroke-width="0.5"/>
<line x1="351.60" y1="86.26" x2="352.60" y2="86.26" stroke="#333" stroke-width="0.5"/>
<line x1="351.60" y1="83.21" x2="352.60" y2="83.21" stroke="#333" stroke-width="0.5"/>
<line x1="351.60" y1="80.85" x2="352.60" y2="80.85" stroke="#333" stroke-width="0.5"/>
<line x1="351.60" y1="78.91" x2="352.60" y2="78.91" stroke="#333" stroke-width="0.5"/>
<line x1="351.60" y1="77.28" x2="352.60" y2="77.28" stroke="#333" stroke-width="0.5"/>
<line x1="351.60" y1="75.86" x2="352.60" y2="75.86" stroke="#333" stroke-width="0.5"/>
<line x1="351.60" y1="74.62" x2="352.60" y2="74.62" stroke="#333" stroke-width="0.5"/>
<line x1="351.60" y1="66.15" x2="352.60" y2="66.15" stroke="#333" stroke-width="0.5"/>
<line x1="351.60" y1="61.86" x2="352.60" y2="61.86" stroke="#333" stroke-width="0.5"/>
<line x1="351.60" y1="58.81" x2="352.60" y2="58.81" stroke="#333" stroke-width="0.5"/>
<line x1="351.60" y1="56.45" x2="352.60" y2="56.45" stroke="#333" stroke-width="0.5"/>
<line x1="351.60" y1="54.51" x2="352.60" y2="54.51" stroke="#333" stroke-width="0.5"/>
<line x1="351.60" y1="52.88" x2="352.60" y2="52.88" stroke="#333" stroke-width="0.5"/>
<line x1="351.60" y1="51.46" x2="352.60" y2="51.46" stroke="#333" stroke-width="0.5"/>
<line x1="351.60" y1="50.22" x2="352.60" y2="50.22" stroke="#333" stroke-width="0.5"/>
<line x1="351.60" y1="41.75" x2="352.60" y2="41.75" stroke="#333" stroke-width="0.5"/>
<line x1="351.60" y1="37.46" x2="352.60" y2="37.46" stroke="#333" stroke-width="0.5"/>
<line x1="351.60" y1="34.41" x2="352.60" y2="34.41" stroke="#333" stroke-width="0.5"/>
<line x1="351.60" y1="32.05" x2="352.60" y2="32.05" stroke="#333" stroke-width="0.5"/>
<line x1="351.60" y1="30.11" x2="352.60" y2="30.11" stroke="#333" stroke-width="0.5"/>
<line x1="351.60" y1="28.48" x2="352.60" y2="28.48" stroke="#333" stroke-width="0.5"/>
<line x1="351.60" y1="27.06" x2="352.60" y2="27.06" stroke="#333" stroke-width="0.5"/>
<line x1="351.60" y1="25.82" x2="352.60" y2="25.82" stroke="#333" stroke-width="0.5"/>
<line x1="352.60" y1="97.40" x2="494.00" y2="97.40" stroke="#000" stroke-width="0.8"/>
<line x1="356.42" y1="50.40" x2="356.42" y2="47.80" stroke="#333" stroke-width="0.55"/>
<line x1="355.42" y1="47.80" x2="357.42" y2="47.80" stroke="#333" stroke-width="0.55"/>
<rect x="354.40" y="50.40" width="4.05" height="47.00" fill="#ffffff" stroke="#222" stroke-width="0.5"/>
<line x1="360.47" y1="50.90" x2="360.47" y2="48.10" stroke="#333" stroke-width="0.55"/>
<line x1="359.47" y1="48.10" x2="361.47" y2="48.10" stroke="#333" stroke-width="0.55"/>
<rect x="358.45" y="50.90" width="4.05" height="46.50" fill="#a8a8a8" stroke="#222" stroke-width="0.5"/>
<line x1="364.52" y1="47.10" x2="364.52" y2="43.40" stroke="#333" stroke-width="0.55"/>
<line x1="363.52" y1="43.40" x2="365.52" y2="43.40" stroke="#333" stroke-width="0.55"/>
<rect x="362.50" y="47.10" width="4.05" height="50.30" fill="#4a4a4a" stroke="#222" stroke-width="0.5"/>
<line x1="368.57" y1="46.00" x2="368.57" y2="43.40" stroke="#333" stroke-width="0.55"/>
<line x1="367.57" y1="43.40" x2="369.57" y2="43.40" stroke="#333" stroke-width="0.55"/>
<rect x="366.55" y="46.00" width="4.05" height="51.40" fill="#000000" stroke="#222" stroke-width="0.5"/>
<line x1="372.62" y1="39.80" x2="372.62" y2="34.20" stroke="#333" stroke-width="0.55"/>
<line x1="371.62" y1="34.20" x2="373.62" y2="34.20" stroke="#333" stroke-width="0.55"/>
<rect x="370.60" y="39.80" width="4.05" height="57.60" fill="#f4f4f4" stroke="#222" stroke-width="0.5"/>
<line x1="376.67" y1="23.30" x2="376.67" y2="22.10" stroke="#333" stroke-width="0.55"/>
<line x1="375.67" y1="22.10" x2="377.67" y2="22.10" stroke="#333" stroke-width="0.55"/>
<rect x="374.65" y="23.30" width="4.05" height="74.10" fill="#707070" stroke="#222" stroke-width="0.5"/>
<line x1="385.22" y1="59.60" x2="385.22" y2="58.20" stroke="#333" stroke-width="0.55"/>
<line x1="384.22" y1="58.20" x2="386.22" y2="58.20" stroke="#333" stroke-width="0.55"/>
<rect x="383.20" y="59.60" width="4.05" height="37.80" fill="#ffffff" stroke="#222" stroke-width="0.5"/>
<line x1="389.27" y1="58.20" x2="389.27" y2="52.40" stroke="#333" stroke-width="0.55"/>
<line x1="388.27" y1="52.40" x2="390.27" y2="52.40" stroke="#333" stroke-width="0.55"/>
<rect x="387.25" y="58.20" width="4.05" height="39.20" fill="#a8a8a8" stroke="#222" stroke-width="0.5"/>
<rect x="391.30" y="55.20" width="4.05" height="42.20" fill="#4a4a4a" stroke="#222" stroke-width="0.5"/>
<line x1="397.37" y1="51.50" x2="397.37" y2="47.10" stroke="#333" stroke-width="0.55"/>
<line x1="396.37" y1="47.10" x2="398.37" y2="47.10" stroke="#333" stroke-width="0.55"/>
<rect x="395.35" y="51.50" width="4.05" height="45.90" fill="#000000" stroke="#222" stroke-width="0.5"/>
<line x1="401.42" y1="43.40" x2="401.42" y2="36.50" stroke="#333" stroke-width="0.55"/>
<line x1="400.42" y1="36.50" x2="402.42" y2="36.50" stroke="#333" stroke-width="0.55"/>
<rect x="399.40" y="43.40" width="4.05" height="54.00" fill="#f4f4f4" stroke="#222" stroke-width="0.5"/>
<line x1="405.47" y1="26.10" x2="405.47" y2="25.20" stroke="#333" stroke-width="0.55"/>
<line x1="404.47" y1="25.20" x2="406.47" y2="25.20" stroke="#333" stroke-width="0.55"/>
<rect x="403.45" y="26.10" width="4.05" height="71.30" fill="#707070" stroke="#222" stroke-width="0.5"/>
<line x1="412.72" y1="84.50" x2="412.72" y2="80.60" stroke="#333" stroke-width="0.55"/>
<line x1="411.72" y1="80.60" x2="413.72" y2="80.60" stroke="#333" stroke-width="0.55"/>
<rect x="410.70" y="84.50" width="4.05" height="12.90" fill="#ffffff" stroke="#222" stroke-width="0.5"/>
<line x1="416.77" y1="75.10" x2="416.77" y2="64.90" stroke="#333" stroke-width="0.55"/>
<line x1="415.77" y1="64.90" x2="417.77" y2="64.90" stroke="#333" stroke-width="0.55"/>
<rect x="414.75" y="75.10" width="4.05" height="22.30" fill="#a8a8a8" stroke="#222" stroke-width="0.5"/>
<line x1="420.82" y1="69.80" x2="420.82" y2="62.10" stroke="#333" stroke-width="0.55"/>
<line x1="419.82" y1="62.10" x2="421.82" y2="62.10" stroke="#333" stroke-width="0.55"/>
<rect x="418.80" y="69.80" width="4.05" height="27.60" fill="#4a4a4a" stroke="#222" stroke-width="0.5"/>
<line x1="424.87" y1="61.40" x2="424.87" y2="56.20" stroke="#333" stroke-width="0.55"/>
<line x1="423.87" y1="56.20" x2="425.87" y2="56.20" stroke="#333" stroke-width="0.55"/>
<rect x="422.85" y="61.40" width="4.05" height="36.00" fill="#000000" stroke="#222" stroke-width="0.5"/>
<line x1="428.92" y1="52.30" x2="428.92" y2="46.40" stroke="#333" stroke-width="0.55"/>
<line x1="427.92" y1="46.40" x2="429.92" y2="46.40" stroke="#333" stroke-width="0.55"/>
<rect x="426.90" y="52.30" width="4.05" height="45.10" fill="#f4f4f4" stroke="#222" stroke-width="0.5"/>
<line x1="432.97" y1="39.90" x2="432.97" y2="38.50" stroke="#333" stroke-width="0.55"/>
<line x1="431.97" y1="38.50" x2="433.97" y2="38.50" stroke="#333" stroke-width="0.55"/>
<rect x="430.95" y="39.90" width="4.05" height="57.50" fill="#707070" stroke="#222" stroke-width="0.5"/>
<line x1="441.32" y1="72.60" x2="441.32" y2="68.80" stroke="#333" stroke-width="0.55"/>
<line x1="440.32" y1="68.80" x2="442.32" y2="68.80" stroke="#333" stroke-width="0.55"/>
<rect x="439.30" y="72.60" width="4.05" height="24.80" fill="#ffffff" stroke="#222" stroke-width="0.5"/>
<line x1="445.38" y1="74.00" x2="445.38" y2="68.40" stroke="#333" stroke-width="0.55"/>
<line x1="444.38" y1="68.40" x2="446.38" y2="68.40" stroke="#333" stroke-width="0.55"/>
<rect x="443.35" y="74.00" width="4.05" height="23.40" fill="#a8a8a8" stroke="#222" stroke-width="0.5"/>
<line x1="449.43" y1="68.80" x2="449.43" y2="66.00" stroke="#333" stroke-width="0.55"/>
<line x1="448.43" y1="66.00" x2="450.43" y2="66.00" stroke="#333" stroke-width="0.55"/>
<rect x="447.40" y="68.80" width="4.05" height="28.60" fill="#4a4a4a" stroke="#222" stroke-width="0.5"/>
<line x1="453.47" y1="61.00" x2="453.47" y2="57.20" stroke="#333" stroke-width="0.55"/>
<line x1="452.47" y1="57.20" x2="454.47" y2="57.20" stroke="#333" stroke-width="0.55"/>
<rect x="451.45" y="61.00" width="4.05" height="36.40" fill="#000000" stroke="#222" stroke-width="0.5"/>
<line x1="457.52" y1="56.20" x2="457.52" y2="52.00" stroke="#333" stroke-width="0.55"/>
<line x1="456.52" y1="52.00" x2="458.52" y2="52.00" stroke="#333" stroke-width="0.55"/>
<rect x="455.50" y="56.20" width="4.05" height="41.20" fill="#f4f4f4" stroke="#222" stroke-width="0.5"/>
<line x1="461.57" y1="34.70" x2="461.57" y2="34.00" stroke="#333" stroke-width="0.55"/>
<line x1="460.57" y1="34.00" x2="462.57" y2="34.00" stroke="#333" stroke-width="0.55"/>
<rect x="459.55" y="34.70" width="4.05" height="62.70" fill="#707070" stroke="#222" stroke-width="0.5"/>
<line x1="469.52" y1="76.50" x2="469.52" y2="72.10" stroke="#333" stroke-width="0.55"/>
<line x1="468.52" y1="72.10" x2="470.52" y2="72.10" stroke="#333" stroke-width="0.55"/>
<rect x="467.50" y="76.50" width="4.05" height="20.90" fill="#ffffff" stroke="#222" stroke-width="0.5"/>
<line x1="473.57" y1="76.90" x2="473.57" y2="72.40" stroke="#333" stroke-width="0.55"/>
<line x1="472.57" y1="72.40" x2="474.57" y2="72.40" stroke="#333" stroke-width="0.55"/>
<rect x="471.55" y="76.90" width="4.05" height="20.50" fill="#a8a8a8" stroke="#222" stroke-width="0.5"/>
<line x1="477.62" y1="78.00" x2="477.62" y2="73.00" stroke="#333" stroke-width="0.55"/>
<line x1="476.62" y1="73.00" x2="478.62" y2="73.00" stroke="#333" stroke-width="0.55"/>
<rect x="475.60" y="78.00" width="4.05" height="19.40" fill="#4a4a4a" stroke="#222" stroke-width="0.5"/>
<line x1="481.67" y1="95.50" x2="481.67" y2="91.40" stroke="#333" stroke-width="0.55"/>
<line x1="480.67" y1="91.40" x2="482.67" y2="91.40" stroke="#333" stroke-width="0.55"/>
<rect x="479.65" y="95.50" width="4.05" height="1.90" fill="#000000" stroke="#222" stroke-width="0.5"/>
<line x1="485.72" y1="94.90" x2="485.72" y2="92.30" stroke="#333" stroke-width="0.55"/>
<line x1="484.72" y1="92.30" x2="486.72" y2="92.30" stroke="#333" stroke-width="0.55"/>
<rect x="483.70" y="94.90" width="4.05" height="2.50" fill="#f4f4f4" stroke="#222" stroke-width="0.5"/>
<line x1="489.77" y1="73.00" x2="489.77" y2="68.60" stroke="#333" stroke-width="0.55"/>
<line x1="488.77" y1="68.60" x2="490.77" y2="68.60" stroke="#333" stroke-width="0.55"/>
<rect x="487.75" y="73.00" width="4.05" height="24.40" fill="#707070" stroke="#222" stroke-width="0.5"/>
<text x="344.00" y="60.00" font-size="7.9" text-anchor="middle" transform="rotate(-90 344.00 60.00)">Cell Number x 10<tspan font-size="5" dy="-2.6">6</tspan>/mL</text>
<text x="366.60" y="109.40" font-size="6.7" text-anchor="middle">Total</text>
<text x="395.40" y="109.40" font-size="6.7" text-anchor="middle">Total B</text>
<text x="422.90" y="109.40" font-size="6.7" text-anchor="middle">Pre-B</text>
<text x="451.50" y="109.40" font-size="6.7" text-anchor="middle">T1</text>
<text x="479.70" y="109.40" font-size="6.7" text-anchor="middle">Mature B</text>
<polyline points="368.20,20.50 368.20,18.70 376.80,18.70 376.80,20.50" fill="none" stroke="#000" stroke-width="0.9"/>
<text x="372.50" y="20.37" font-size="7.2" text-anchor="middle">***</text>
<polyline points="396.70,21.60 396.70,19.80 404.80,19.80 404.80,21.60" fill="none" stroke="#000" stroke-width="0.9"/>
<text x="400.75" y="21.47" font-size="7.2" text-anchor="middle">***</text>
<polyline points="424.40,33.70 424.40,31.90 432.80,31.90 432.80,33.70" fill="none" stroke="#000" stroke-width="0.9"/>
<text x="428.60" y="33.57" font-size="7.2" text-anchor="middle">***</text>
<polyline points="453.40,29.50 453.40,27.70 461.10,27.70 461.10,29.50" fill="none" stroke="#000" stroke-width="0.9"/>
<text x="457.25" y="29.37" font-size="7.2" text-anchor="middle">***</text>
<rect x="472.20" y="10.80" width="5.40" height="5.20" fill="#ffffff" stroke="#555" stroke-width="0.6"/>
<text x="480.80" y="15.60" font-size="5.9" font-style="italic" fill="#333">wt</text>
<rect x="472.20" y="17.95" width="5.40" height="5.20" fill="#a8a8a8" stroke="#555" stroke-width="0.6"/>
<text x="480.80" y="22.75" font-size="5.9" font-style="italic" fill="#333">bad<tspan font-size="4.0" dy="-2.3">-/-</tspan></text>
<rect x="472.20" y="25.10" width="5.40" height="5.20" fill="#4a4a4a" stroke="#555" stroke-width="0.6"/>
<text x="480.80" y="29.90" font-size="5.9" font-style="italic" fill="#333">bmf<tspan font-size="4.0" dy="-2.3">-/-</tspan></text>
<rect x="472.20" y="32.25" width="5.40" height="5.20" fill="#000000" stroke="#555" stroke-width="0.6"/>
<text x="480.80" y="37.05" font-size="5.9" font-style="italic" fill="#333">Eμ-myc</text>
<rect x="472.20" y="39.40" width="5.40" height="5.20" fill="#f4f4f4" stroke="#555" stroke-width="0.6"/>
<text x="480.80" y="44.20" font-size="5.9" font-style="italic" fill="#333">Eμ-myc/bad<tspan font-size="4.0" dy="-2.3">-/-</tspan></text>
<rect x="472.20" y="46.55" width="5.40" height="5.20" fill="#707070" stroke="#555" stroke-width="0.6"/>
<text x="480.80" y="51.35" font-size="5.9" font-style="italic" fill="#333">Eμ-myc/bmf<tspan font-size="4.0" dy="-2.3">-/-</tspan></text>
<text x="0.50" y="131.00" font-size="12.5" font-weight="bold">B</text>
<text x="77.60" y="132.50" font-size="8.6" text-anchor="middle">pre-B cells</text>
<text x="219.40" y="132.60" font-size="8.9" text-anchor="middle">Immature B cells</text>
<text x="350.70" y="132.40" font-size="8.85" text-anchor="middle">Mature B cells</text>
<line x1="43.50" y1="136.30" x2="43.50" y2="241.80" stroke="#000" stroke-width="0.9"/>
<line x1="43.50" y1="241.80" x2="158.00" y2="241.80" stroke="#000" stroke-width="0.9"/>
<line x1="41.50" y1="241.80" x2="43.50" y2="241.80" stroke="#000" stroke-width="0.8"/>
<text x="39.30" y="246.80" font-size="8.7" text-anchor="end">0</text>
<line x1="41.50" y1="220.90" x2="43.50" y2="220.90" stroke="#000" stroke-width="0.8"/>
<text x="39.30" y="225.90" font-size="8.7" text-anchor="end">20</text>
<line x1="41.50" y1="200.00" x2="43.50" y2="200.00" stroke="#000" stroke-width="0.8"/>
<text x="39.30" y="205.00" font-size="8.7" text-anchor="end">40</text>
<line x1="41.50" y1="179.10" x2="43.50" y2="179.10" stroke="#000" stroke-width="0.8"/>
<text x="39.30" y="184.10" font-size="8.7" text-anchor="end">60</text>
<line x1="41.50" y1="158.20" x2="43.50" y2="158.20" stroke="#000" stroke-width="0.8"/>
<text x="39.30" y="163.20" font-size="8.7" text-anchor="end">80</text>
<line x1="41.50" y1="137.30" x2="43.50" y2="137.30" stroke="#000" stroke-width="0.8"/>
<text x="39.30" y="142.30" font-size="8.7" text-anchor="end">100</text>
<line x1="43.50" y1="241.80" x2="43.50" y2="243.80" stroke="#000" stroke-width="0.8"/>
<text x="43.50" y="255.50" font-size="8.7" text-anchor="middle">0</text>
<line x1="52.40" y1="241.80" x2="52.40" y2="243.80" stroke="#000" stroke-width="0.8"/>
<text x="52.40" y="255.50" font-size="8.7" text-anchor="middle">4</text>
<line x1="61.30" y1="241.80" x2="61.30" y2="243.80" stroke="#000" stroke-width="0.8"/>
<text x="61.30" y="255.50" font-size="8.7" text-anchor="middle">8</text>
<line x1="96.90" y1="241.80" x2="96.90" y2="243.80" stroke="#000" stroke-width="0.8"/>
<text x="96.90" y="255.50" font-size="8.7" text-anchor="middle">24</text>
<line x1="150.30" y1="241.80" x2="150.30" y2="243.80" stroke="#000" stroke-width="0.8"/>
<text x="150.30" y="255.50" font-size="8.7" text-anchor="middle">48</text>
<line x1="43.50" y1="269.50" x2="43.50" y2="375.20" stroke="#000" stroke-width="0.9"/>
<line x1="43.50" y1="375.20" x2="158.00" y2="375.20" stroke="#000" stroke-width="0.9"/>
<line x1="41.50" y1="375.20" x2="43.50" y2="375.20" stroke="#000" stroke-width="0.8"/>
<text x="39.30" y="380.20" font-size="8.7" text-anchor="end">0</text>
<line x1="41.50" y1="354.26" x2="43.50" y2="354.26" stroke="#000" stroke-width="0.8"/>
<text x="39.30" y="359.26" font-size="8.7" text-anchor="end">20</text>
<line x1="41.50" y1="333.32" x2="43.50" y2="333.32" stroke="#000" stroke-width="0.8"/>
<text x="39.30" y="338.32" font-size="8.7" text-anchor="end">40</text>
<line x1="41.50" y1="312.38" x2="43.50" y2="312.38" stroke="#000" stroke-width="0.8"/>
<text x="39.30" y="317.38" font-size="8.7" text-anchor="end">60</text>
<line x1="41.50" y1="291.44" x2="43.50" y2="291.44" stroke="#000" stroke-width="0.8"/>
<text x="39.30" y="296.44" font-size="8.7" text-anchor="end">80</text>
<line x1="41.50" y1="270.50" x2="43.50" y2="270.50" stroke="#000" stroke-width="0.8"/>
<text x="39.30" y="275.50" font-size="8.7" text-anchor="end">100</text>
<line x1="43.50" y1="375.20" x2="43.50" y2="377.20" stroke="#000" stroke-width="0.8"/>
<text x="43.50" y="388.80" font-size="8.7" text-anchor="middle">0</text>
<line x1="52.40" y1="375.20" x2="52.40" y2="377.20" stroke="#000" stroke-width="0.8"/>
<text x="52.40" y="388.80" font-size="8.7" text-anchor="middle">4</text>
<line x1="61.30" y1="375.20" x2="61.30" y2="377.20" stroke="#000" stroke-width="0.8"/>
<text x="61.30" y="388.80" font-size="8.7" text-anchor="middle">8</text>
<line x1="96.90" y1="375.20" x2="96.90" y2="377.20" stroke="#000" stroke-width="0.8"/>
<text x="96.90" y="388.80" font-size="8.7" text-anchor="middle">24</text>
<line x1="150.30" y1="375.20" x2="150.30" y2="377.20" stroke="#000" stroke-width="0.8"/>
<text x="150.30" y="388.80" font-size="8.7" text-anchor="middle">48</text>
<line x1="176.20" y1="136.30" x2="176.20" y2="241.80" stroke="#000" stroke-width="0.9"/>
<line x1="176.20" y1="241.80" x2="291.00" y2="241.80" stroke="#000" stroke-width="0.9"/>
<line x1="174.20" y1="241.80" x2="176.20" y2="241.80" stroke="#000" stroke-width="0.8"/>
<text x="172.00" y="246.80" font-size="8.7" text-anchor="end">0</text>
<line x1="174.20" y1="220.90" x2="176.20" y2="220.90" stroke="#000" stroke-width="0.8"/>
<text x="172.00" y="225.90" font-size="8.7" text-anchor="end">20</text>
<line x1="174.20" y1="200.00" x2="176.20" y2="200.00" stroke="#000" stroke-width="0.8"/>
<text x="172.00" y="205.00" font-size="8.7" text-anchor="end">40</text>
<line x1="174.20" y1="179.10" x2="176.20" y2="179.10" stroke="#000" stroke-width="0.8"/>
<text x="172.00" y="184.10" font-size="8.7" text-anchor="end">60</text>
<line x1="174.20" y1="158.20" x2="176.20" y2="158.20" stroke="#000" stroke-width="0.8"/>
<text x="172.00" y="163.20" font-size="8.7" text-anchor="end">80</text>
<line x1="174.20" y1="137.30" x2="176.20" y2="137.30" stroke="#000" stroke-width="0.8"/>
<text x="172.00" y="142.30" font-size="8.7" text-anchor="end">100</text>
<line x1="176.20" y1="241.80" x2="176.20" y2="243.80" stroke="#000" stroke-width="0.8"/>
<text x="176.20" y="255.50" font-size="8.7" text-anchor="middle">0</text>
<line x1="185.10" y1="241.80" x2="185.10" y2="243.80" stroke="#000" stroke-width="0.8"/>
<text x="185.10" y="255.50" font-size="8.7" text-anchor="middle">4</text>
<line x1="194.00" y1="241.80" x2="194.00" y2="243.80" stroke="#000" stroke-width="0.8"/>
<text x="194.00" y="255.50" font-size="8.7" text-anchor="middle">8</text>
<line x1="229.60" y1="241.80" x2="229.60" y2="243.80" stroke="#000" stroke-width="0.8"/>
<text x="229.60" y="255.50" font-size="8.7" text-anchor="middle">24</text>
<line x1="283.00" y1="241.80" x2="283.00" y2="243.80" stroke="#000" stroke-width="0.8"/>
<text x="283.00" y="255.50" font-size="8.7" text-anchor="middle">48</text>
<line x1="176.20" y1="269.50" x2="176.20" y2="375.20" stroke="#000" stroke-width="0.9"/>
<line x1="176.20" y1="375.20" x2="291.00" y2="375.20" stroke="#000" stroke-width="0.9"/>
<line x1="174.20" y1="375.20" x2="176.20" y2="375.20" stroke="#000" stroke-width="0.8"/>
<text x="172.00" y="380.20" font-size="8.7" text-anchor="end">0</text>
<line x1="174.20" y1="354.26" x2="176.20" y2="354.26" stroke="#000" stroke-width="0.8"/>
<text x="172.00" y="359.26" font-size="8.7" text-anchor="end">20</text>
<line x1="174.20" y1="333.32" x2="176.20" y2="333.32" stroke="#000" stroke-width="0.8"/>
<text x="172.00" y="338.32" font-size="8.7" text-anchor="end">40</text>
<line x1="174.20" y1="312.38" x2="176.20" y2="312.38" stroke="#000" stroke-width="0.8"/>
<text x="172.00" y="317.38" font-size="8.7" text-anchor="end">60</text>
<line x1="174.20" y1="291.44" x2="176.20" y2="291.44" stroke="#000" stroke-width="0.8"/>
<text x="172.00" y="296.44" font-size="8.7" text-anchor="end">80</text>
<line x1="174.20" y1="270.50" x2="176.20" y2="270.50" stroke="#000" stroke-width="0.8"/>
<text x="172.00" y="275.50" font-size="8.7" text-anchor="end">100</text>
<line x1="176.20" y1="375.20" x2="176.20" y2="377.20" stroke="#000" stroke-width="0.8"/>
<text x="176.20" y="388.80" font-size="8.7" text-anchor="middle">0</text>
<line x1="185.10" y1="375.20" x2="185.10" y2="377.20" stroke="#000" stroke-width="0.8"/>
<text x="185.10" y="388.80" font-size="8.7" text-anchor="middle">4</text>
<line x1="194.00" y1="375.20" x2="194.00" y2="377.20" stroke="#000" stroke-width="0.8"/>
<text x="194.00" y="388.80" font-size="8.7" text-anchor="middle">8</text>
<line x1="229.60" y1="375.20" x2="229.60" y2="377.20" stroke="#000" stroke-width="0.8"/>
<text x="229.60" y="388.80" font-size="8.7" text-anchor="middle">24</text>
<line x1="283.00" y1="375.20" x2="283.00" y2="377.20" stroke="#000" stroke-width="0.8"/>
<text x="283.00" y="388.80" font-size="8.7" text-anchor="middle">48</text>
<line x1="311.00" y1="136.30" x2="311.00" y2="241.80" stroke="#000" stroke-width="0.9"/>
<line x1="311.00" y1="241.80" x2="425.00" y2="241.80" stroke="#000" stroke-width="0.9"/>
<line x1="309.00" y1="241.80" x2="311.00" y2="241.80" stroke="#000" stroke-width="0.8"/>
<text x="306.80" y="246.80" font-size="8.7" text-anchor="end">0</text>
<line x1="309.00" y1="220.90" x2="311.00" y2="220.90" stroke="#000" stroke-width="0.8"/>
<text x="306.80" y="225.90" font-size="8.7" text-anchor="end">20</text>
<line x1="309.00" y1="200.00" x2="311.00" y2="200.00" stroke="#000" stroke-width="0.8"/>
<text x="306.80" y="205.00" font-size="8.7" text-anchor="end">40</text>
<line x1="309.00" y1="179.10" x2="311.00" y2="179.10" stroke="#000" stroke-width="0.8"/>
<text x="306.80" y="184.10" font-size="8.7" text-anchor="end">60</text>
<line x1="309.00" y1="158.20" x2="311.00" y2="158.20" stroke="#000" stroke-width="0.8"/>
<text x="306.80" y="163.20" font-size="8.7" text-anchor="end">80</text>
<line x1="309.00" y1="137.30" x2="311.00" y2="137.30" stroke="#000" stroke-width="0.8"/>
<text x="306.80" y="142.30" font-size="8.7" text-anchor="end">100</text>
<line x1="311.00" y1="241.80" x2="311.00" y2="243.80" stroke="#000" stroke-width="0.8"/>
<text x="311.00" y="255.50" font-size="8.7" text-anchor="middle">0</text>
<line x1="319.90" y1="241.80" x2="319.90" y2="243.80" stroke="#000" stroke-width="0.8"/>
<text x="319.90" y="255.50" font-size="8.7" text-anchor="middle">4</text>
<line x1="328.80" y1="241.80" x2="328.80" y2="243.80" stroke="#000" stroke-width="0.8"/>
<text x="328.80" y="255.50" font-size="8.7" text-anchor="middle">8</text>
<line x1="364.40" y1="241.80" x2="364.40" y2="243.80" stroke="#000" stroke-width="0.8"/>
<text x="364.40" y="255.50" font-size="8.7" text-anchor="middle">24</text>
<line x1="417.80" y1="241.80" x2="417.80" y2="243.80" stroke="#000" stroke-width="0.8"/>
<text x="417.80" y="255.50" font-size="8.7" text-anchor="middle">48</text>
<line x1="311.00" y1="269.50" x2="311.00" y2="375.20" stroke="#000" stroke-width="0.9"/>
<line x1="311.00" y1="375.20" x2="425.00" y2="375.20" stroke="#000" stroke-width="0.9"/>
<line x1="309.00" y1="375.20" x2="311.00" y2="375.20" stroke="#000" stroke-width="0.8"/>
<text x="306.80" y="380.20" font-size="8.7" text-anchor="end">0</text>
<line x1="309.00" y1="354.26" x2="311.00" y2="354.26" stroke="#000" stroke-width="0.8"/>
<text x="306.80" y="359.26" font-size="8.7" text-anchor="end">20</text>
<line x1="309.00" y1="333.32" x2="311.00" y2="333.32" stroke="#000" stroke-width="0.8"/>
<text x="306.80" y="338.32" font-size="8.7" text-anchor="end">40</text>
<line x1="309.00" y1="312.38" x2="311.00" y2="312.38" stroke="#000" stroke-width="0.8"/>
<text x="306.80" y="317.38" font-size="8.7" text-anchor="end">60</text>
<line x1="309.00" y1="291.44" x2="311.00" y2="291.44" stroke="#000" stroke-width="0.8"/>
<text x="306.80" y="296.44" font-size="8.7" text-anchor="end">80</text>
<line x1="309.00" y1="270.50" x2="311.00" y2="270.50" stroke="#000" stroke-width="0.8"/>
<text x="306.80" y="275.50" font-size="8.7" text-anchor="end">100</text>
<line x1="311.00" y1="375.20" x2="311.00" y2="377.20" stroke="#000" stroke-width="0.8"/>
<text x="311.00" y="388.80" font-size="8.7" text-anchor="middle">0</text>
<line x1="319.90" y1="375.20" x2="319.90" y2="377.20" stroke="#000" stroke-width="0.8"/>
<text x="319.90" y="388.80" font-size="8.7" text-anchor="middle">4</text>
<line x1="328.80" y1="375.20" x2="328.80" y2="377.20" stroke="#000" stroke-width="0.8"/>
<text x="328.80" y="388.80" font-size="8.7" text-anchor="middle">8</text>
<line x1="364.40" y1="375.20" x2="364.40" y2="377.20" stroke="#000" stroke-width="0.8"/>
<text x="364.40" y="388.80" font-size="8.7" text-anchor="middle">24</text>
<line x1="417.80" y1="375.20" x2="417.80" y2="377.20" stroke="#000" stroke-width="0.8"/>
<text x="417.80" y="388.80" font-size="8.7" text-anchor="middle">48</text>
<polyline points="43.50,137.30 52.40,152.24 61.30,156.32 96.90,169.90 150.30,183.91" fill="none" stroke="#000" stroke-width="1.0"/>
<line x1="52.40" y1="150.15" x2="52.40" y2="154.33" stroke="#000" stroke-width="0.6"/>
<line x1="51.40" y1="150.15" x2="53.40" y2="150.15" stroke="#000" stroke-width="0.6"/>
<line x1="51.40" y1="154.33" x2="53.40" y2="154.33" stroke="#000" stroke-width="0.6"/>
<line x1="96.90" y1="167.81" x2="96.90" y2="171.99" stroke="#000" stroke-width="0.6"/>
<line x1="95.90" y1="167.81" x2="97.90" y2="167.81" stroke="#000" stroke-width="0.6"/>
<line x1="95.90" y1="171.99" x2="97.90" y2="171.99" stroke="#000" stroke-width="0.6"/>
<line x1="150.30" y1="181.82" x2="150.30" y2="186.00" stroke="#000" stroke-width="0.6"/>
<line x1="149.30" y1="181.82" x2="151.30" y2="181.82" stroke="#000" stroke-width="0.6"/>
<line x1="149.30" y1="186.00" x2="151.30" y2="186.00" stroke="#000" stroke-width="0.6"/>
<circle cx="43.50" cy="137.30" r="1.75" fill="#fff" stroke="#000" stroke-width="0.9"/>
<circle cx="52.40" cy="152.24" r="1.75" fill="#fff" stroke="#000" stroke-width="0.9"/>
<circle cx="61.30" cy="156.32" r="1.75" fill="#fff" stroke="#000" stroke-width="0.9"/>
<circle cx="96.90" cy="169.90" r="1.75" fill="#fff" stroke="#000" stroke-width="0.9"/>
<circle cx="150.30" cy="183.91" r="1.75" fill="#fff" stroke="#000" stroke-width="0.9"/>
<polyline points="43.50,137.30 52.40,151.93 61.30,156.11 96.90,161.86 150.30,173.35" fill="none" stroke="#000" stroke-width="1.0"/>
<line x1="52.40" y1="149.84" x2="52.40" y2="154.02" stroke="#000" stroke-width="0.6"/>
<line x1="51.40" y1="149.84" x2="53.40" y2="149.84" stroke="#000" stroke-width="0.6"/>
<line x1="51.40" y1="154.02" x2="53.40" y2="154.02" stroke="#000" stroke-width="0.6"/>
<line x1="96.90" y1="159.77" x2="96.90" y2="163.95" stroke="#000" stroke-width="0.6"/>
<line x1="95.90" y1="159.77" x2="97.90" y2="159.77" stroke="#000" stroke-width="0.6"/>
<line x1="95.90" y1="163.95" x2="97.90" y2="163.95" stroke="#000" stroke-width="0.6"/>
<line x1="150.30" y1="170.22" x2="150.30" y2="176.49" stroke="#000" stroke-width="0.6"/>
<line x1="149.30" y1="170.22" x2="151.30" y2="170.22" stroke="#000" stroke-width="0.6"/>
<line x1="149.30" y1="176.49" x2="151.30" y2="176.49" stroke="#000" stroke-width="0.6"/>
<rect x="41.60" y="135.40" width="3.80" height="3.80" fill="#fff" stroke="#000" stroke-width="0.9"/>
<rect x="50.50" y="150.03" width="3.80" height="3.80" fill="#fff" stroke="#000" stroke-width="0.9"/>
<rect x="59.40" y="154.21" width="3.80" height="3.80" fill="#fff" stroke="#000" stroke-width="0.9"/>
<rect x="95.00" y="159.96" width="3.80" height="3.80" fill="#fff" stroke="#000" stroke-width="0.9"/>
<rect x="148.40" y="171.45" width="3.80" height="3.80" fill="#fff" stroke="#000" stroke-width="0.9"/>
<polyline points="43.50,137.30 52.40,194.98 61.30,207.00 96.90,220.06 150.30,237.20" fill="none" stroke="#000" stroke-width="1.0"/>
<line x1="52.40" y1="184.53" x2="52.40" y2="205.43" stroke="#000" stroke-width="0.6"/>
<line x1="51.40" y1="184.53" x2="53.40" y2="184.53" stroke="#000" stroke-width="0.6"/>
<line x1="51.40" y1="205.43" x2="53.40" y2="205.43" stroke="#000" stroke-width="0.6"/>
<line x1="61.30" y1="193.94" x2="61.30" y2="220.06" stroke="#000" stroke-width="0.6"/>
<line x1="60.30" y1="193.94" x2="62.30" y2="193.94" stroke="#000" stroke-width="0.6"/>
<line x1="60.30" y1="220.06" x2="62.30" y2="220.06" stroke="#000" stroke-width="0.6"/>
<line x1="96.90" y1="211.70" x2="96.90" y2="228.42" stroke="#000" stroke-width="0.6"/>
<line x1="95.90" y1="211.70" x2="97.90" y2="211.70" stroke="#000" stroke-width="0.6"/>
<line x1="95.90" y1="228.42" x2="97.90" y2="228.42" stroke="#000" stroke-width="0.6"/>
<line x1="150.30" y1="235.11" x2="150.30" y2="239.29" stroke="#000" stroke-width="0.6"/>
<line x1="149.30" y1="235.11" x2="151.30" y2="235.11" stroke="#000" stroke-width="0.6"/>
<line x1="149.30" y1="239.29" x2="151.30" y2="239.29" stroke="#000" stroke-width="0.6"/>
<rect x="41.30" y="135.10" width="4.40" height="4.40" fill="#000"/>
<rect x="50.20" y="192.78" width="4.40" height="4.40" fill="#000"/>
<rect x="59.10" y="204.80" width="4.40" height="4.40" fill="#000"/>
<rect x="94.70" y="217.86" width="4.40" height="4.40" fill="#000"/>
<rect x="148.10" y="235.00" width="4.40" height="4.40" fill="#000"/>
<polyline points="43.50,137.30 52.40,205.02 61.30,216.20 96.90,230.83 150.30,239.71" fill="none" stroke="#000" stroke-width="1.0"/>
<line x1="52.40" y1="197.70" x2="52.40" y2="212.33" stroke="#000" stroke-width="0.6"/>
<line x1="51.40" y1="197.70" x2="53.40" y2="197.70" stroke="#000" stroke-width="0.6"/>
<line x1="51.40" y1="212.33" x2="53.40" y2="212.33" stroke="#000" stroke-width="0.6"/>
<line x1="61.30" y1="210.97" x2="61.30" y2="221.42" stroke="#000" stroke-width="0.6"/>
<line x1="60.30" y1="210.97" x2="62.30" y2="210.97" stroke="#000" stroke-width="0.6"/>
<line x1="60.30" y1="221.42" x2="62.30" y2="221.42" stroke="#000" stroke-width="0.6"/>
<line x1="96.90" y1="227.69" x2="96.90" y2="233.96" stroke="#000" stroke-width="0.6"/>
<line x1="95.90" y1="227.69" x2="97.90" y2="227.69" stroke="#000" stroke-width="0.6"/>
<line x1="95.90" y1="233.96" x2="97.90" y2="233.96" stroke="#000" stroke-width="0.6"/>
<line x1="150.30" y1="238.67" x2="150.30" y2="240.75" stroke="#000" stroke-width="0.6"/>
<line x1="149.30" y1="238.67" x2="151.30" y2="238.67" stroke="#000" stroke-width="0.6"/>
<line x1="149.30" y1="240.75" x2="151.30" y2="240.75" stroke="#000" stroke-width="0.6"/>
<circle cx="43.50" cy="137.30" r="2.15" fill="#000"/>
<circle cx="52.40" cy="205.02" r="2.15" fill="#000"/>
<circle cx="61.30" cy="216.20" r="2.15" fill="#000"/>
<circle cx="96.90" cy="230.83" r="2.15" fill="#000"/>
<circle cx="150.30" cy="239.71" r="2.15" fill="#000"/>
<polyline points="43.50,270.50 52.40,285.58 61.30,290.08 96.90,304.11 150.30,317.62" fill="none" stroke="#000" stroke-width="1.0"/>
<line x1="52.40" y1="283.48" x2="52.40" y2="287.67" stroke="#000" stroke-width="0.6"/>
<line x1="51.40" y1="283.48" x2="53.40" y2="283.48" stroke="#000" stroke-width="0.6"/>
<line x1="51.40" y1="287.67" x2="53.40" y2="287.67" stroke="#000" stroke-width="0.6"/>
<line x1="61.30" y1="287.98" x2="61.30" y2="292.17" stroke="#000" stroke-width="0.6"/>
<line x1="60.30" y1="287.98" x2="62.30" y2="287.98" stroke="#000" stroke-width="0.6"/>
<line x1="60.30" y1="292.17" x2="62.30" y2="292.17" stroke="#000" stroke-width="0.6"/>
<line x1="96.90" y1="302.01" x2="96.90" y2="306.20" stroke="#000" stroke-width="0.6"/>
<line x1="95.90" y1="302.01" x2="97.90" y2="302.01" stroke="#000" stroke-width="0.6"/>
<line x1="95.90" y1="306.20" x2="97.90" y2="306.20" stroke="#000" stroke-width="0.6"/>
<line x1="150.30" y1="315.52" x2="150.30" y2="319.71" stroke="#000" stroke-width="0.6"/>
<line x1="149.30" y1="315.52" x2="151.30" y2="315.52" stroke="#000" stroke-width="0.6"/>
<line x1="149.30" y1="319.71" x2="151.30" y2="319.71" stroke="#000" stroke-width="0.6"/>
<circle cx="43.50" cy="270.50" r="1.75" fill="#fff" stroke="#000" stroke-width="0.9"/>
<circle cx="52.40" cy="285.58" r="1.75" fill="#fff" stroke="#000" stroke-width="0.9"/>
<circle cx="61.30" cy="290.08" r="1.75" fill="#fff" stroke="#000" stroke-width="0.9"/>
<circle cx="96.90" cy="304.11" r="1.75" fill="#fff" stroke="#000" stroke-width="0.9"/>
<circle cx="150.30" cy="317.62" r="1.75" fill="#fff" stroke="#000" stroke-width="0.9"/>
<polyline points="43.50,270.50 52.40,285.16 61.30,289.87 96.90,292.07 150.30,298.25" fill="none" stroke="#000" stroke-width="1.0"/>
<line x1="52.40" y1="283.06" x2="52.40" y2="287.25" stroke="#000" stroke-width="0.6"/>
<line x1="51.40" y1="283.06" x2="53.40" y2="283.06" stroke="#000" stroke-width="0.6"/>
<line x1="51.40" y1="287.25" x2="53.40" y2="287.25" stroke="#000" stroke-width="0.6"/>
<line x1="61.30" y1="287.78" x2="61.30" y2="291.96" stroke="#000" stroke-width="0.6"/>
<line x1="60.30" y1="287.78" x2="62.30" y2="287.78" stroke="#000" stroke-width="0.6"/>
<line x1="60.30" y1="291.96" x2="62.30" y2="291.96" stroke="#000" stroke-width="0.6"/>
<line x1="96.90" y1="288.93" x2="96.90" y2="295.21" stroke="#000" stroke-width="0.6"/>
<line x1="95.90" y1="288.93" x2="97.90" y2="288.93" stroke="#000" stroke-width="0.6"/>
<line x1="95.90" y1="295.21" x2="97.90" y2="295.21" stroke="#000" stroke-width="0.6"/>
<line x1="150.30" y1="296.15" x2="150.30" y2="300.34" stroke="#000" stroke-width="0.6"/>
<line x1="149.30" y1="296.15" x2="151.30" y2="296.15" stroke="#000" stroke-width="0.6"/>
<line x1="149.30" y1="300.34" x2="151.30" y2="300.34" stroke="#000" stroke-width="0.6"/>
<polygon points="43.50,267.80 41.35,272.30 45.65,272.30" fill="#fff" stroke="#000" stroke-width="1.0" stroke-linejoin="round"/>
<polygon points="52.40,282.46 50.25,286.96 54.55,286.96" fill="#fff" stroke="#000" stroke-width="1.0" stroke-linejoin="round"/>
<polygon points="61.30,287.17 59.15,291.67 63.45,291.67" fill="#fff" stroke="#000" stroke-width="1.0" stroke-linejoin="round"/>
<polygon points="96.90,289.37 94.75,293.87 99.05,293.87" fill="#fff" stroke="#000" stroke-width="1.0" stroke-linejoin="round"/>
<polygon points="150.30,295.55 148.15,300.05 152.45,300.05" fill="#fff" stroke="#000" stroke-width="1.0" stroke-linejoin="round"/>
<polyline points="43.50,270.50 52.40,326.41 61.30,330.39 96.90,346.93 150.30,365.99" fill="none" stroke="#000" stroke-width="1.0"/>
<line x1="52.40" y1="321.17" x2="52.40" y2="331.64" stroke="#000" stroke-width="0.6"/>
<line x1="51.40" y1="321.17" x2="53.40" y2="321.17" stroke="#000" stroke-width="0.6"/>
<line x1="51.40" y1="331.64" x2="53.40" y2="331.64" stroke="#000" stroke-width="0.6"/>
<line x1="61.30" y1="325.15" x2="61.30" y2="335.62" stroke="#000" stroke-width="0.6"/>
<line x1="60.30" y1="325.15" x2="62.30" y2="325.15" stroke="#000" stroke-width="0.6"/>
<line x1="60.30" y1="335.62" x2="62.30" y2="335.62" stroke="#000" stroke-width="0.6"/>
<line x1="96.90" y1="344.84" x2="96.90" y2="349.02" stroke="#000" stroke-width="0.6"/>
<line x1="95.90" y1="344.84" x2="97.90" y2="344.84" stroke="#000" stroke-width="0.6"/>
<line x1="95.90" y1="349.02" x2="97.90" y2="349.02" stroke="#000" stroke-width="0.6"/>
<line x1="150.30" y1="363.89" x2="150.30" y2="368.08" stroke="#000" stroke-width="0.6"/>
<line x1="149.30" y1="363.89" x2="151.30" y2="363.89" stroke="#000" stroke-width="0.6"/>
<line x1="149.30" y1="368.08" x2="151.30" y2="368.08" stroke="#000" stroke-width="0.6"/>
<polygon points="43.50,267.38 41.00,272.58 46.00,272.58" fill="#000"/>
<polygon points="52.40,323.29 49.90,328.49 54.90,328.49" fill="#000"/>
<polygon points="61.30,327.27 58.80,332.47 63.80,332.47" fill="#000"/>
<polygon points="96.90,343.81 94.40,349.01 99.40,349.01" fill="#000"/>
<polygon points="150.30,362.87 147.80,368.07 152.80,368.07" fill="#000"/>
<polyline points="43.50,270.50 52.40,338.35 61.30,348.82 96.90,363.37 150.30,372.58" fill="none" stroke="#000" stroke-width="1.0"/>
<line x1="52.40" y1="329.97" x2="52.40" y2="346.72" stroke="#000" stroke-width="0.6"/>
<line x1="51.40" y1="329.97" x2="53.40" y2="329.97" stroke="#000" stroke-width="0.6"/>
<line x1="51.40" y1="346.72" x2="53.40" y2="346.72" stroke="#000" stroke-width="0.6"/>
<line x1="61.30" y1="343.58" x2="61.30" y2="354.05" stroke="#000" stroke-width="0.6"/>
<line x1="60.30" y1="343.58" x2="62.30" y2="343.58" stroke="#000" stroke-width="0.6"/>
<line x1="60.30" y1="354.05" x2="62.30" y2="354.05" stroke="#000" stroke-width="0.6"/>
<line x1="96.90" y1="360.23" x2="96.90" y2="366.51" stroke="#000" stroke-width="0.6"/>
<line x1="95.90" y1="360.23" x2="97.90" y2="360.23" stroke="#000" stroke-width="0.6"/>
<line x1="95.90" y1="366.51" x2="97.90" y2="366.51" stroke="#000" stroke-width="0.6"/>
<line x1="150.30" y1="371.54" x2="150.30" y2="373.63" stroke="#000" stroke-width="0.6"/>
<line x1="149.30" y1="371.54" x2="151.30" y2="371.54" stroke="#000" stroke-width="0.6"/>
<line x1="149.30" y1="373.63" x2="151.30" y2="373.63" stroke="#000" stroke-width="0.6"/>
<circle cx="43.50" cy="270.50" r="2.15" fill="#000"/>
<circle cx="52.40" cy="338.35" r="2.15" fill="#000"/>
<circle cx="61.30" cy="348.82" r="2.15" fill="#000"/>
<circle cx="96.90" cy="363.37" r="2.15" fill="#000"/>
<circle cx="150.30" cy="372.58" r="2.15" fill="#000"/>
<polyline points="176.20,137.30 185.10,155.48 194.00,170.74 229.60,189.55 283.00,204.18" fill="none" stroke="#000" stroke-width="1.0"/>
<line x1="185.10" y1="153.39" x2="185.10" y2="157.57" stroke="#000" stroke-width="0.6"/>
<line x1="184.10" y1="153.39" x2="186.10" y2="153.39" stroke="#000" stroke-width="0.6"/>
<line x1="184.10" y1="157.57" x2="186.10" y2="157.57" stroke="#000" stroke-width="0.6"/>
<line x1="194.00" y1="168.65" x2="194.00" y2="172.83" stroke="#000" stroke-width="0.6"/>
<line x1="193.00" y1="168.65" x2="195.00" y2="168.65" stroke="#000" stroke-width="0.6"/>
<line x1="193.00" y1="172.83" x2="195.00" y2="172.83" stroke="#000" stroke-width="0.6"/>
<line x1="229.60" y1="186.42" x2="229.60" y2="192.69" stroke="#000" stroke-width="0.6"/>
<line x1="228.60" y1="186.42" x2="230.60" y2="186.42" stroke="#000" stroke-width="0.6"/>
<line x1="228.60" y1="192.69" x2="230.60" y2="192.69" stroke="#000" stroke-width="0.6"/>
<line x1="283.00" y1="196.87" x2="283.00" y2="211.50" stroke="#000" stroke-width="0.6"/>
<line x1="282.00" y1="196.87" x2="284.00" y2="196.87" stroke="#000" stroke-width="0.6"/>
<line x1="282.00" y1="211.50" x2="284.00" y2="211.50" stroke="#000" stroke-width="0.6"/>
<circle cx="176.20" cy="137.30" r="1.75" fill="#fff" stroke="#000" stroke-width="0.9"/>
<circle cx="185.10" cy="155.48" r="1.75" fill="#fff" stroke="#000" stroke-width="0.9"/>
<circle cx="194.00" cy="170.74" r="1.75" fill="#fff" stroke="#000" stroke-width="0.9"/>
<circle cx="229.60" cy="189.55" r="1.75" fill="#fff" stroke="#000" stroke-width="0.9"/>
<circle cx="283.00" cy="204.18" r="1.75" fill="#fff" stroke="#000" stroke-width="0.9"/>
<polyline points="176.20,137.30 185.10,155.06 194.00,162.38 229.60,185.89 283.00,203.66" fill="none" stroke="#000" stroke-width="1.0"/>
<line x1="185.10" y1="152.97" x2="185.10" y2="157.16" stroke="#000" stroke-width="0.6"/>
<line x1="184.10" y1="152.97" x2="186.10" y2="152.97" stroke="#000" stroke-width="0.6"/>
<line x1="184.10" y1="157.16" x2="186.10" y2="157.16" stroke="#000" stroke-width="0.6"/>
<line x1="194.00" y1="160.29" x2="194.00" y2="164.47" stroke="#000" stroke-width="0.6"/>
<line x1="193.00" y1="160.29" x2="195.00" y2="160.29" stroke="#000" stroke-width="0.6"/>
<line x1="193.00" y1="164.47" x2="195.00" y2="164.47" stroke="#000" stroke-width="0.6"/>
<line x1="229.60" y1="182.76" x2="229.60" y2="189.03" stroke="#000" stroke-width="0.6"/>
<line x1="228.60" y1="182.76" x2="230.60" y2="182.76" stroke="#000" stroke-width="0.6"/>
<line x1="228.60" y1="189.03" x2="230.60" y2="189.03" stroke="#000" stroke-width="0.6"/>
<line x1="283.00" y1="196.34" x2="283.00" y2="210.97" stroke="#000" stroke-width="0.6"/>
<line x1="282.00" y1="196.34" x2="284.00" y2="196.34" stroke="#000" stroke-width="0.6"/>
<line x1="282.00" y1="210.97" x2="284.00" y2="210.97" stroke="#000" stroke-width="0.6"/>
<rect x="174.30" y="135.40" width="3.80" height="3.80" fill="#fff" stroke="#000" stroke-width="0.9"/>
<rect x="183.20" y="153.16" width="3.80" height="3.80" fill="#fff" stroke="#000" stroke-width="0.9"/>
<rect x="192.10" y="160.48" width="3.80" height="3.80" fill="#fff" stroke="#000" stroke-width="0.9"/>
<rect x="227.70" y="183.99" width="3.80" height="3.80" fill="#fff" stroke="#000" stroke-width="0.9"/>
<rect x="281.10" y="201.76" width="3.80" height="3.80" fill="#fff" stroke="#000" stroke-width="0.9"/>
<polyline points="176.20,137.30 185.10,179.83 194.00,196.97 229.60,215.05 283.00,229.26" fill="none" stroke="#000" stroke-width="1.0"/>
<line x1="185.10" y1="175.65" x2="185.10" y2="184.01" stroke="#000" stroke-width="0.6"/>
<line x1="184.10" y1="175.65" x2="186.10" y2="175.65" stroke="#000" stroke-width="0.6"/>
<line x1="184.10" y1="184.01" x2="186.10" y2="184.01" stroke="#000" stroke-width="0.6"/>
<line x1="194.00" y1="191.74" x2="194.00" y2="202.19" stroke="#000" stroke-width="0.6"/>
<line x1="193.00" y1="191.74" x2="195.00" y2="191.74" stroke="#000" stroke-width="0.6"/>
<line x1="193.00" y1="202.19" x2="195.00" y2="202.19" stroke="#000" stroke-width="0.6"/>
<line x1="229.60" y1="209.82" x2="229.60" y2="220.27" stroke="#000" stroke-width="0.6"/>
<line x1="228.60" y1="209.82" x2="230.60" y2="209.82" stroke="#000" stroke-width="0.6"/>
<line x1="228.60" y1="220.27" x2="230.60" y2="220.27" stroke="#000" stroke-width="0.6"/>
<line x1="283.00" y1="224.04" x2="283.00" y2="234.49" stroke="#000" stroke-width="0.6"/>
<line x1="282.00" y1="224.04" x2="284.00" y2="224.04" stroke="#000" stroke-width="0.6"/>
<line x1="282.00" y1="234.49" x2="284.00" y2="234.49" stroke="#000" stroke-width="0.6"/>
<rect x="174.00" y="135.10" width="4.40" height="4.40" fill="#000"/>
<rect x="182.90" y="177.63" width="4.40" height="4.40" fill="#000"/>
<rect x="191.80" y="194.77" width="4.40" height="4.40" fill="#000"/>
<rect x="227.40" y="212.85" width="4.40" height="4.40" fill="#000"/>
<rect x="280.80" y="227.06" width="4.40" height="4.40" fill="#000"/>
<polyline points="176.20,137.30 185.10,189.24 194.00,206.06 229.60,222.47 283.00,234.17" fill="none" stroke="#000" stroke-width="1.0"/>
<line x1="185.10" y1="186.10" x2="185.10" y2="192.37" stroke="#000" stroke-width="0.6"/>
<line x1="184.10" y1="186.10" x2="186.10" y2="186.10" stroke="#000" stroke-width="0.6"/>
<line x1="184.10" y1="192.37" x2="186.10" y2="192.37" stroke="#000" stroke-width="0.6"/>
<line x1="194.00" y1="203.97" x2="194.00" y2="208.15" stroke="#000" stroke-width="0.6"/>
<line x1="193.00" y1="203.97" x2="195.00" y2="203.97" stroke="#000" stroke-width="0.6"/>
<line x1="193.00" y1="208.15" x2="195.00" y2="208.15" stroke="#000" stroke-width="0.6"/>
<line x1="229.60" y1="218.29" x2="229.60" y2="226.65" stroke="#000" stroke-width="0.6"/>
<line x1="228.60" y1="218.29" x2="230.60" y2="218.29" stroke="#000" stroke-width="0.6"/>
<line x1="228.60" y1="226.65" x2="230.60" y2="226.65" stroke="#000" stroke-width="0.6"/>
<line x1="283.00" y1="232.08" x2="283.00" y2="236.26" stroke="#000" stroke-width="0.6"/>
<line x1="282.00" y1="232.08" x2="284.00" y2="232.08" stroke="#000" stroke-width="0.6"/>
<line x1="282.00" y1="236.26" x2="284.00" y2="236.26" stroke="#000" stroke-width="0.6"/>
<circle cx="176.20" cy="137.30" r="2.15" fill="#000"/>
<circle cx="185.10" cy="189.24" r="2.15" fill="#000"/>
<circle cx="194.00" cy="206.06" r="2.15" fill="#000"/>
<circle cx="229.60" cy="222.47" r="2.15" fill="#000"/>
<circle cx="283.00" cy="234.17" r="2.15" fill="#000"/>
<polyline points="176.20,270.50 185.10,290.08 194.00,304.00 229.60,322.54 283.00,335.52" fill="none" stroke="#000" stroke-width="1.0"/>
<line x1="185.10" y1="287.98" x2="185.10" y2="292.17" stroke="#000" stroke-width="0.6"/>
<line x1="184.10" y1="287.98" x2="186.10" y2="287.98" stroke="#000" stroke-width="0.6"/>
<line x1="184.10" y1="292.17" x2="186.10" y2="292.17" stroke="#000" stroke-width="0.6"/>
<line x1="194.00" y1="301.91" x2="194.00" y2="306.10" stroke="#000" stroke-width="0.6"/>
<line x1="193.00" y1="301.91" x2="195.00" y2="301.91" stroke="#000" stroke-width="0.6"/>
<line x1="193.00" y1="306.10" x2="195.00" y2="306.10" stroke="#000" stroke-width="0.6"/>
<line x1="229.60" y1="319.39" x2="229.60" y2="325.68" stroke="#000" stroke-width="0.6"/>
<line x1="228.60" y1="319.39" x2="230.60" y2="319.39" stroke="#000" stroke-width="0.6"/>
<line x1="228.60" y1="325.68" x2="230.60" y2="325.68" stroke="#000" stroke-width="0.6"/>
<line x1="283.00" y1="331.33" x2="283.00" y2="339.71" stroke="#000" stroke-width="0.6"/>
<line x1="282.00" y1="331.33" x2="284.00" y2="331.33" stroke="#000" stroke-width="0.6"/>
<line x1="282.00" y1="339.71" x2="284.00" y2="339.71" stroke="#000" stroke-width="0.6"/>
<circle cx="176.20" cy="270.50" r="1.75" fill="#fff" stroke="#000" stroke-width="0.9"/>
<circle cx="185.10" cy="290.08" r="1.75" fill="#fff" stroke="#000" stroke-width="0.9"/>
<circle cx="194.00" cy="304.00" r="1.75" fill="#fff" stroke="#000" stroke-width="0.9"/>
<circle cx="229.60" cy="322.54" r="1.75" fill="#fff" stroke="#000" stroke-width="0.9"/>
<circle cx="283.00" cy="335.52" r="1.75" fill="#fff" stroke="#000" stroke-width="0.9"/>
<polyline points="176.20,270.50 185.10,286.83 194.00,296.05 229.60,313.32 283.00,327.35" fill="none" stroke="#000" stroke-width="1.0"/>
<line x1="185.10" y1="284.74" x2="185.10" y2="288.93" stroke="#000" stroke-width="0.6"/>
<line x1="184.10" y1="284.74" x2="186.10" y2="284.74" stroke="#000" stroke-width="0.6"/>
<line x1="184.10" y1="288.93" x2="186.10" y2="288.93" stroke="#000" stroke-width="0.6"/>
<line x1="194.00" y1="293.95" x2="194.00" y2="298.14" stroke="#000" stroke-width="0.6"/>
<line x1="193.00" y1="293.95" x2="195.00" y2="293.95" stroke="#000" stroke-width="0.6"/>
<line x1="193.00" y1="298.14" x2="195.00" y2="298.14" stroke="#000" stroke-width="0.6"/>
<line x1="229.60" y1="310.18" x2="229.60" y2="316.46" stroke="#000" stroke-width="0.6"/>
<line x1="228.60" y1="310.18" x2="230.60" y2="310.18" stroke="#000" stroke-width="0.6"/>
<line x1="228.60" y1="316.46" x2="230.60" y2="316.46" stroke="#000" stroke-width="0.6"/>
<line x1="283.00" y1="321.07" x2="283.00" y2="333.63" stroke="#000" stroke-width="0.6"/>
<line x1="282.00" y1="321.07" x2="284.00" y2="321.07" stroke="#000" stroke-width="0.6"/>
<line x1="282.00" y1="333.63" x2="284.00" y2="333.63" stroke="#000" stroke-width="0.6"/>
<polygon points="176.20,267.80 174.05,272.30 178.35,272.30" fill="#fff" stroke="#000" stroke-width="1.0" stroke-linejoin="round"/>
<polygon points="185.10,284.13 182.95,288.63 187.25,288.63" fill="#fff" stroke="#000" stroke-width="1.0" stroke-linejoin="round"/>
<polygon points="194.00,293.35 191.85,297.85 196.15,297.85" fill="#fff" stroke="#000" stroke-width="1.0" stroke-linejoin="round"/>
<polygon points="229.60,310.62 227.45,315.12 231.75,315.12" fill="#fff" stroke="#000" stroke-width="1.0" stroke-linejoin="round"/>
<polygon points="283.00,324.65 280.85,329.15 285.15,329.15" fill="#fff" stroke="#000" stroke-width="1.0" stroke-linejoin="round"/>
<polyline points="176.20,270.50 185.10,297.09 194.00,311.33 229.60,326.41 283.00,347.56" fill="none" stroke="#000" stroke-width="1.0"/>
<line x1="185.10" y1="293.95" x2="185.10" y2="300.23" stroke="#000" stroke-width="0.6"/>
<line x1="184.10" y1="293.95" x2="186.10" y2="293.95" stroke="#000" stroke-width="0.6"/>
<line x1="184.10" y1="300.23" x2="186.10" y2="300.23" stroke="#000" stroke-width="0.6"/>
<line x1="194.00" y1="308.19" x2="194.00" y2="314.47" stroke="#000" stroke-width="0.6"/>
<line x1="193.00" y1="308.19" x2="195.00" y2="308.19" stroke="#000" stroke-width="0.6"/>
<line x1="193.00" y1="314.47" x2="195.00" y2="314.47" stroke="#000" stroke-width="0.6"/>
<line x1="229.60" y1="323.27" x2="229.60" y2="329.55" stroke="#000" stroke-width="0.6"/>
<line x1="228.60" y1="323.27" x2="230.60" y2="323.27" stroke="#000" stroke-width="0.6"/>
<line x1="228.60" y1="329.55" x2="230.60" y2="329.55" stroke="#000" stroke-width="0.6"/>
<line x1="283.00" y1="343.37" x2="283.00" y2="351.75" stroke="#000" stroke-width="0.6"/>
<line x1="282.00" y1="343.37" x2="284.00" y2="343.37" stroke="#000" stroke-width="0.6"/>
<line x1="282.00" y1="351.75" x2="284.00" y2="351.75" stroke="#000" stroke-width="0.6"/>
<polygon points="176.20,267.38 173.70,272.58 178.70,272.58" fill="#000"/>
<polygon points="185.10,293.97 182.60,299.17 187.60,299.17" fill="#000"/>
<polygon points="194.00,308.21 191.50,313.41 196.50,313.41" fill="#000"/>
<polygon points="229.60,323.29 227.10,328.49 232.10,328.49" fill="#000"/>
<polygon points="283.00,344.44 280.50,349.64 285.50,349.64" fill="#000"/>
<polyline points="176.20,270.50 185.10,322.75 194.00,339.60 229.60,355.41 283.00,367.24" fill="none" stroke="#000" stroke-width="1.0"/>
<line x1="185.10" y1="320.65" x2="185.10" y2="324.84" stroke="#000" stroke-width="0.6"/>
<line x1="184.10" y1="320.65" x2="186.10" y2="320.65" stroke="#000" stroke-width="0.6"/>
<line x1="184.10" y1="324.84" x2="186.10" y2="324.84" stroke="#000" stroke-width="0.6"/>
<line x1="194.00" y1="337.51" x2="194.00" y2="341.70" stroke="#000" stroke-width="0.6"/>
<line x1="193.00" y1="337.51" x2="195.00" y2="337.51" stroke="#000" stroke-width="0.6"/>
<line x1="193.00" y1="341.70" x2="195.00" y2="341.70" stroke="#000" stroke-width="0.6"/>
<line x1="229.60" y1="352.27" x2="229.60" y2="358.55" stroke="#000" stroke-width="0.6"/>
<line x1="228.60" y1="352.27" x2="230.60" y2="352.27" stroke="#000" stroke-width="0.6"/>
<line x1="228.60" y1="358.55" x2="230.60" y2="358.55" stroke="#000" stroke-width="0.6"/>
<line x1="283.00" y1="365.15" x2="283.00" y2="369.34" stroke="#000" stroke-width="0.6"/>
<line x1="282.00" y1="365.15" x2="284.00" y2="365.15" stroke="#000" stroke-width="0.6"/>
<line x1="282.00" y1="369.34" x2="284.00" y2="369.34" stroke="#000" stroke-width="0.6"/>
<circle cx="176.20" cy="270.50" r="2.15" fill="#000"/>
<circle cx="185.10" cy="322.75" r="2.15" fill="#000"/>
<circle cx="194.00" cy="339.60" r="2.15" fill="#000"/>
<circle cx="229.60" cy="355.41" r="2.15" fill="#000"/>
<circle cx="283.00" cy="367.24" r="2.15" fill="#000"/>
<polyline points="311.00,137.30 319.90,152.98 328.80,162.38 364.40,195.92 417.80,214.32" fill="none" stroke="#000" stroke-width="1.0"/>
<line x1="319.90" y1="150.89" x2="319.90" y2="155.07" stroke="#000" stroke-width="0.6"/>
<line x1="318.90" y1="150.89" x2="320.90" y2="150.89" stroke="#000" stroke-width="0.6"/>
<line x1="318.90" y1="155.07" x2="320.90" y2="155.07" stroke="#000" stroke-width="0.6"/>
<line x1="328.80" y1="160.29" x2="328.80" y2="164.47" stroke="#000" stroke-width="0.6"/>
<line x1="327.80" y1="160.29" x2="329.80" y2="160.29" stroke="#000" stroke-width="0.6"/>
<line x1="327.80" y1="164.47" x2="329.80" y2="164.47" stroke="#000" stroke-width="0.6"/>
<line x1="364.40" y1="192.79" x2="364.40" y2="199.06" stroke="#000" stroke-width="0.6"/>
<line x1="363.40" y1="192.79" x2="365.40" y2="192.79" stroke="#000" stroke-width="0.6"/>
<line x1="363.40" y1="199.06" x2="365.40" y2="199.06" stroke="#000" stroke-width="0.6"/>
<line x1="417.80" y1="211.18" x2="417.80" y2="217.45" stroke="#000" stroke-width="0.6"/>
<line x1="416.80" y1="211.18" x2="418.80" y2="211.18" stroke="#000" stroke-width="0.6"/>
<line x1="416.80" y1="217.45" x2="418.80" y2="217.45" stroke="#000" stroke-width="0.6"/>
<circle cx="311.00" cy="137.30" r="1.75" fill="#fff" stroke="#000" stroke-width="0.9"/>
<circle cx="319.90" cy="152.98" r="1.75" fill="#fff" stroke="#000" stroke-width="0.9"/>
<circle cx="328.80" cy="162.38" r="1.75" fill="#fff" stroke="#000" stroke-width="0.9"/>
<circle cx="364.40" cy="195.92" r="1.75" fill="#fff" stroke="#000" stroke-width="0.9"/>
<circle cx="417.80" cy="214.32" r="1.75" fill="#fff" stroke="#000" stroke-width="0.9"/>
<polyline points="311.00,137.30 319.90,152.98 328.80,161.86 364.40,188.71 417.80,210.45" fill="none" stroke="#000" stroke-width="1.0"/>
<line x1="319.90" y1="150.89" x2="319.90" y2="155.07" stroke="#000" stroke-width="0.6"/>
<line x1="318.90" y1="150.89" x2="320.90" y2="150.89" stroke="#000" stroke-width="0.6"/>
<line x1="318.90" y1="155.07" x2="320.90" y2="155.07" stroke="#000" stroke-width="0.6"/>
<line x1="328.80" y1="159.77" x2="328.80" y2="163.95" stroke="#000" stroke-width="0.6"/>
<line x1="327.80" y1="159.77" x2="329.80" y2="159.77" stroke="#000" stroke-width="0.6"/>
<line x1="327.80" y1="163.95" x2="329.80" y2="163.95" stroke="#000" stroke-width="0.6"/>
<line x1="364.40" y1="182.44" x2="364.40" y2="194.98" stroke="#000" stroke-width="0.6"/>
<line x1="363.40" y1="182.44" x2="365.40" y2="182.44" stroke="#000" stroke-width="0.6"/>
<line x1="363.40" y1="194.98" x2="365.40" y2="194.98" stroke="#000" stroke-width="0.6"/>
<line x1="417.80" y1="207.32" x2="417.80" y2="213.59" stroke="#000" stroke-width="0.6"/>
<line x1="416.80" y1="207.32" x2="418.80" y2="207.32" stroke="#000" stroke-width="0.6"/>
<line x1="416.80" y1="213.59" x2="418.80" y2="213.59" stroke="#000" stroke-width="0.6"/>
<rect x="309.10" y="135.40" width="3.80" height="3.80" fill="#fff" stroke="#000" stroke-width="0.9"/>
<rect x="318.00" y="151.08" width="3.80" height="3.80" fill="#fff" stroke="#000" stroke-width="0.9"/>
<rect x="326.90" y="159.96" width="3.80" height="3.80" fill="#fff" stroke="#000" stroke-width="0.9"/>
<rect x="362.50" y="186.81" width="3.80" height="3.80" fill="#fff" stroke="#000" stroke-width="0.9"/>
<rect x="415.90" y="208.55" width="3.80" height="3.80" fill="#fff" stroke="#000" stroke-width="0.9"/>
<polyline points="311.00,137.30 319.90,173.88 328.80,193.73 364.40,218.08 417.80,230.93" fill="none" stroke="#000" stroke-width="1.0"/>
<line x1="319.90" y1="170.74" x2="319.90" y2="177.01" stroke="#000" stroke-width="0.6"/>
<line x1="318.90" y1="170.74" x2="320.90" y2="170.74" stroke="#000" stroke-width="0.6"/>
<line x1="318.90" y1="177.01" x2="320.90" y2="177.01" stroke="#000" stroke-width="0.6"/>
<line x1="328.80" y1="189.55" x2="328.80" y2="197.91" stroke="#000" stroke-width="0.6"/>
<line x1="327.80" y1="189.55" x2="329.80" y2="189.55" stroke="#000" stroke-width="0.6"/>
<line x1="327.80" y1="197.91" x2="329.80" y2="197.91" stroke="#000" stroke-width="0.6"/>
<line x1="364.40" y1="211.81" x2="364.40" y2="224.35" stroke="#000" stroke-width="0.6"/>
<line x1="363.40" y1="211.81" x2="365.40" y2="211.81" stroke="#000" stroke-width="0.6"/>
<line x1="363.40" y1="224.35" x2="365.40" y2="224.35" stroke="#000" stroke-width="0.6"/>
<line x1="417.80" y1="223.62" x2="417.80" y2="238.25" stroke="#000" stroke-width="0.6"/>
<line x1="416.80" y1="223.62" x2="418.80" y2="223.62" stroke="#000" stroke-width="0.6"/>
<line x1="416.80" y1="238.25" x2="418.80" y2="238.25" stroke="#000" stroke-width="0.6"/>
<rect x="308.80" y="135.10" width="4.40" height="4.40" fill="#000"/>
<rect x="317.70" y="171.68" width="4.40" height="4.40" fill="#000"/>
<rect x="326.60" y="191.53" width="4.40" height="4.40" fill="#000"/>
<rect x="362.20" y="215.88" width="4.40" height="4.40" fill="#000"/>
<rect x="415.60" y="228.73" width="4.40" height="4.40" fill="#000"/>
<polyline points="311.00,137.30 319.90,179.10 328.80,202.82 364.40,224.56 417.80,233.44" fill="none" stroke="#000" stroke-width="1.0"/>
<line x1="319.90" y1="177.01" x2="319.90" y2="181.19" stroke="#000" stroke-width="0.6"/>
<line x1="318.90" y1="177.01" x2="320.90" y2="177.01" stroke="#000" stroke-width="0.6"/>
<line x1="318.90" y1="181.19" x2="320.90" y2="181.19" stroke="#000" stroke-width="0.6"/>
<line x1="328.80" y1="200.73" x2="328.80" y2="204.91" stroke="#000" stroke-width="0.6"/>
<line x1="327.80" y1="200.73" x2="329.80" y2="200.73" stroke="#000" stroke-width="0.6"/>
<line x1="327.80" y1="204.91" x2="329.80" y2="204.91" stroke="#000" stroke-width="0.6"/>
<line x1="364.40" y1="221.42" x2="364.40" y2="227.69" stroke="#000" stroke-width="0.6"/>
<line x1="363.40" y1="221.42" x2="365.40" y2="221.42" stroke="#000" stroke-width="0.6"/>
<line x1="363.40" y1="227.69" x2="365.40" y2="227.69" stroke="#000" stroke-width="0.6"/>
<line x1="417.80" y1="231.35" x2="417.80" y2="235.53" stroke="#000" stroke-width="0.6"/>
<line x1="416.80" y1="231.35" x2="418.80" y2="231.35" stroke="#000" stroke-width="0.6"/>
<line x1="416.80" y1="235.53" x2="418.80" y2="235.53" stroke="#000" stroke-width="0.6"/>
<circle cx="311.00" cy="137.30" r="2.15" fill="#000"/>
<circle cx="319.90" cy="179.10" r="2.15" fill="#000"/>
<circle cx="328.80" cy="202.82" r="2.15" fill="#000"/>
<circle cx="364.40" cy="224.56" r="2.15" fill="#000"/>
<circle cx="417.80" cy="233.44" r="2.15" fill="#000"/>
<polyline points="311.00,270.50 319.90,286.73 328.80,295.63 364.40,329.13 417.80,346.93" fill="none" stroke="#000" stroke-width="1.0"/>
<line x1="319.90" y1="284.63" x2="319.90" y2="288.82" stroke="#000" stroke-width="0.6"/>
<line x1="318.90" y1="284.63" x2="320.90" y2="284.63" stroke="#000" stroke-width="0.6"/>
<line x1="318.90" y1="288.82" x2="320.90" y2="288.82" stroke="#000" stroke-width="0.6"/>
<line x1="328.80" y1="293.53" x2="328.80" y2="297.72" stroke="#000" stroke-width="0.6"/>
<line x1="327.80" y1="293.53" x2="329.80" y2="293.53" stroke="#000" stroke-width="0.6"/>
<line x1="327.80" y1="297.72" x2="329.80" y2="297.72" stroke="#000" stroke-width="0.6"/>
<line x1="364.40" y1="325.99" x2="364.40" y2="332.27" stroke="#000" stroke-width="0.6"/>
<line x1="363.40" y1="325.99" x2="365.40" y2="325.99" stroke="#000" stroke-width="0.6"/>
<line x1="363.40" y1="332.27" x2="365.40" y2="332.27" stroke="#000" stroke-width="0.6"/>
<line x1="417.80" y1="343.79" x2="417.80" y2="350.07" stroke="#000" stroke-width="0.6"/>
<line x1="416.80" y1="343.79" x2="418.80" y2="343.79" stroke="#000" stroke-width="0.6"/>
<line x1="416.80" y1="350.07" x2="418.80" y2="350.07" stroke="#000" stroke-width="0.6"/>
<circle cx="311.00" cy="270.50" r="1.75" fill="#fff" stroke="#000" stroke-width="0.9"/>
<circle cx="319.90" cy="286.73" r="1.75" fill="#fff" stroke="#000" stroke-width="0.9"/>
<circle cx="328.80" cy="295.63" r="1.75" fill="#fff" stroke="#000" stroke-width="0.9"/>
<circle cx="364.40" cy="329.13" r="1.75" fill="#fff" stroke="#000" stroke-width="0.9"/>
<circle cx="417.80" cy="346.93" r="1.75" fill="#fff" stroke="#000" stroke-width="0.9"/>
<polyline points="311.00,270.50 319.90,286.73 328.80,294.58 364.40,319.29 417.80,340.65" fill="none" stroke="#000" stroke-width="1.0"/>
<line x1="319.90" y1="284.63" x2="319.90" y2="288.82" stroke="#000" stroke-width="0.6"/>
<line x1="318.90" y1="284.63" x2="320.90" y2="284.63" stroke="#000" stroke-width="0.6"/>
<line x1="318.90" y1="288.82" x2="320.90" y2="288.82" stroke="#000" stroke-width="0.6"/>
<line x1="328.80" y1="292.49" x2="328.80" y2="296.68" stroke="#000" stroke-width="0.6"/>
<line x1="327.80" y1="292.49" x2="329.80" y2="292.49" stroke="#000" stroke-width="0.6"/>
<line x1="327.80" y1="296.68" x2="329.80" y2="296.68" stroke="#000" stroke-width="0.6"/>
<line x1="364.40" y1="317.20" x2="364.40" y2="321.38" stroke="#000" stroke-width="0.6"/>
<line x1="363.40" y1="317.20" x2="365.40" y2="317.20" stroke="#000" stroke-width="0.6"/>
<line x1="363.40" y1="321.38" x2="365.40" y2="321.38" stroke="#000" stroke-width="0.6"/>
<line x1="417.80" y1="337.51" x2="417.80" y2="343.79" stroke="#000" stroke-width="0.6"/>
<line x1="416.80" y1="337.51" x2="418.80" y2="337.51" stroke="#000" stroke-width="0.6"/>
<line x1="416.80" y1="343.79" x2="418.80" y2="343.79" stroke="#000" stroke-width="0.6"/>
<polygon points="311.00,267.80 308.85,272.30 313.15,272.30" fill="#fff" stroke="#000" stroke-width="1.0" stroke-linejoin="round"/>
<polygon points="319.90,284.03 317.75,288.53 322.05,288.53" fill="#fff" stroke="#000" stroke-width="1.0" stroke-linejoin="round"/>
<polygon points="328.80,291.88 326.65,296.38 330.95,296.38" fill="#fff" stroke="#000" stroke-width="1.0" stroke-linejoin="round"/>
<polygon points="364.40,316.59 362.25,321.09 366.55,321.09" fill="#fff" stroke="#000" stroke-width="1.0" stroke-linejoin="round"/>
<polygon points="417.80,337.95 415.65,342.45 419.95,342.45" fill="#fff" stroke="#000" stroke-width="1.0" stroke-linejoin="round"/>
<polyline points="311.00,270.50 319.90,301.39 328.80,316.78 364.40,340.65 417.80,354.57" fill="none" stroke="#000" stroke-width="1.0"/>
<line x1="319.90" y1="298.25" x2="319.90" y2="304.53" stroke="#000" stroke-width="0.6"/>
<line x1="318.90" y1="298.25" x2="320.90" y2="298.25" stroke="#000" stroke-width="0.6"/>
<line x1="318.90" y1="304.53" x2="320.90" y2="304.53" stroke="#000" stroke-width="0.6"/>
<line x1="328.80" y1="313.64" x2="328.80" y2="319.92" stroke="#000" stroke-width="0.6"/>
<line x1="327.80" y1="313.64" x2="329.80" y2="313.64" stroke="#000" stroke-width="0.6"/>
<line x1="327.80" y1="319.92" x2="329.80" y2="319.92" stroke="#000" stroke-width="0.6"/>
<line x1="364.40" y1="335.41" x2="364.40" y2="345.88" stroke="#000" stroke-width="0.6"/>
<line x1="363.40" y1="335.41" x2="365.40" y2="335.41" stroke="#000" stroke-width="0.6"/>
<line x1="363.40" y1="345.88" x2="365.40" y2="345.88" stroke="#000" stroke-width="0.6"/>
<line x1="417.80" y1="347.25" x2="417.80" y2="361.90" stroke="#000" stroke-width="0.6"/>
<line x1="416.80" y1="347.25" x2="418.80" y2="347.25" stroke="#000" stroke-width="0.6"/>
<line x1="416.80" y1="361.90" x2="418.80" y2="361.90" stroke="#000" stroke-width="0.6"/>
<polygon points="311.00,267.38 308.50,272.58 313.50,272.58" fill="#000"/>
<polygon points="319.90,298.27 317.40,303.47 322.40,303.47" fill="#000"/>
<polygon points="328.80,313.66 326.30,318.86 331.30,318.86" fill="#000"/>
<polygon points="364.40,337.53 361.90,342.73 366.90,342.73" fill="#000"/>
<polygon points="417.80,351.45 415.30,356.65 420.30,356.65" fill="#000"/>
<polyline points="311.00,270.50 319.90,312.69 328.80,335.62 364.40,356.88 417.80,366.20" fill="none" stroke="#000" stroke-width="1.0"/>
<line x1="319.90" y1="310.60" x2="319.90" y2="314.79" stroke="#000" stroke-width="0.6"/>
<line x1="318.90" y1="310.60" x2="320.90" y2="310.60" stroke="#000" stroke-width="0.6"/>
<line x1="318.90" y1="314.79" x2="320.90" y2="314.79" stroke="#000" stroke-width="0.6"/>
<line x1="328.80" y1="333.53" x2="328.80" y2="337.72" stroke="#000" stroke-width="0.6"/>
<line x1="327.80" y1="333.53" x2="329.80" y2="333.53" stroke="#000" stroke-width="0.6"/>
<line x1="327.80" y1="337.72" x2="329.80" y2="337.72" stroke="#000" stroke-width="0.6"/>
<line x1="364.40" y1="352.69" x2="364.40" y2="361.07" stroke="#000" stroke-width="0.6"/>
<line x1="363.40" y1="352.69" x2="365.40" y2="352.69" stroke="#000" stroke-width="0.6"/>
<line x1="363.40" y1="361.07" x2="365.40" y2="361.07" stroke="#000" stroke-width="0.6"/>
<line x1="417.80" y1="364.10" x2="417.80" y2="368.29" stroke="#000" stroke-width="0.6"/>
<line x1="416.80" y1="364.10" x2="418.80" y2="364.10" stroke="#000" stroke-width="0.6"/>
<line x1="416.80" y1="368.29" x2="418.80" y2="368.29" stroke="#000" stroke-width="0.6"/>
<circle cx="311.00" cy="270.50" r="2.15" fill="#000"/>
<circle cx="319.90" cy="312.69" r="2.15" fill="#000"/>
<circle cx="328.80" cy="335.62" r="2.15" fill="#000"/>
<circle cx="364.40" cy="356.88" r="2.15" fill="#000"/>
<circle cx="417.80" cy="366.20" r="2.15" fill="#000"/>
<text x="151.50" y="167.70" font-size="4.6" text-anchor="middle" fill="#666">#</text>
<text x="151.30" y="292.40" font-size="5.6" text-anchor="middle" fill="#555">###</text>
<text x="185.00" y="306.89" font-size="9.0" text-anchor="middle">**</text>
<text x="194.80" y="323.69" font-size="9.0" text-anchor="middle">***</text>
<text x="228.70" y="337.19" font-size="9.0" text-anchor="middle">**</text>
<text x="283.40" y="358.59" font-size="9.0" text-anchor="middle">*</text>
<text x="320.20" y="298.89" font-size="9.0" text-anchor="middle">*</text>
<text x="330.80" y="314.89" font-size="9.0" text-anchor="middle">**</text>
<text x="369.50" y="340.09" font-size="9.0" text-anchor="middle">*</text>
<text x="16.00" y="250.30" font-size="9" text-anchor="middle" transform="rotate(-90 16.00 250.30)">Surviving cells (%)</text>
<text x="253.00" y="404.60" font-size="9" text-anchor="middle">Time (h)</text>
<line x1="427.30" y1="158.30" x2="445.40" y2="158.30" stroke="#000" stroke-width="1.0"/>
<circle cx="436.30" cy="158.30" r="2.09" fill="#fff" stroke="#000" stroke-width="0.9"/>
<text x="448.00" y="161.50" font-size="9" font-style="italic">wt</text>
<line x1="427.30" y1="169.90" x2="445.40" y2="169.90" stroke="#000" stroke-width="1.0"/>
<rect x="434.03" y="167.63" width="4.53" height="4.53" fill="#fff" stroke="#000" stroke-width="0.9"/>
<text x="448.00" y="173.10" font-size="9" font-style="italic">bad<tspan font-size="5.5" dy="-3.5">-/-</tspan></text>
<line x1="427.30" y1="181.80" x2="445.40" y2="181.80" stroke="#000" stroke-width="1.0"/>
<circle cx="436.30" cy="181.80" r="2.56" fill="#000"/>
<text x="448.00" y="185.00" font-size="9" font-style="italic">Eμ-myc</text>
<line x1="427.30" y1="193.60" x2="445.40" y2="193.60" stroke="#000" stroke-width="1.0"/>
<rect x="433.68" y="190.98" width="5.25" height="5.25" fill="#000"/>
<text x="448.00" y="196.80" font-size="9" font-style="italic">Eμ-myc/bad<tspan font-size="5.5" dy="-3.5">-/-</tspan></text>
<line x1="427.30" y1="298.30" x2="445.40" y2="298.30" stroke="#000" stroke-width="1.0"/>
<circle cx="436.30" cy="298.30" r="2.09" fill="#fff" stroke="#000" stroke-width="0.9"/>
<text x="448.00" y="301.50" font-size="9" font-style="italic">wt</text>
<line x1="427.30" y1="309.90" x2="445.40" y2="309.90" stroke="#000" stroke-width="1.0"/>
<polygon points="436.30,306.68 433.74,312.05 438.86,312.05" fill="#fff" stroke="#000" stroke-width="1.0" stroke-linejoin="round"/>
<text x="448.00" y="313.10" font-size="9" font-style="italic">bmf<tspan font-size="5.5" dy="-3.5">-/-</tspan></text>
<line x1="427.30" y1="321.80" x2="445.40" y2="321.80" stroke="#000" stroke-width="1.0"/>
<circle cx="436.30" cy="321.80" r="2.56" fill="#000"/>
<text x="448.00" y="325.00" font-size="9" font-style="italic">Eμ-myc</text>
<line x1="427.30" y1="333.60" x2="445.40" y2="333.60" stroke="#000" stroke-width="1.0"/>
<polygon points="436.30,329.88 433.32,336.08 439.28,336.08" fill="#000"/>
<text x="448.00" y="336.80" font-size="9" font-style="italic">Em-myc/bmf <tspan font-size="5.5" dy="-3.5">-/-</tspan></text>
<text x="0.50" y="426.80" font-size="12.5" font-weight="bold">C</text>
<text x="46.50" y="427.60" font-size="9.0">Spleen CD19<tspan font-size="5.6" dy="-3.6">+</tspan></text>
<line x1="41.50" y1="446.50" x2="41.50" y2="541.25" stroke="#000" stroke-width="1.3"/>
<line x1="39.30" y1="540.60" x2="41.50" y2="540.60" stroke="#000" stroke-width="1.0"/>
<text x="36.50" y="546.90" font-size="9.3" text-anchor="end">0</text>
<line x1="39.30" y1="519.25" x2="41.50" y2="519.25" stroke="#000" stroke-width="1.0"/>
<text x="36.50" y="525.55" font-size="9.3" text-anchor="end">5</text>
<line x1="39.30" y1="497.90" x2="41.50" y2="497.90" stroke="#000" stroke-width="1.0"/>
<text x="36.50" y="504.20" font-size="9.3" text-anchor="end">10</text>
<line x1="39.30" y1="476.55" x2="41.50" y2="476.55" stroke="#000" stroke-width="1.0"/>
<text x="36.50" y="482.85" font-size="9.3" text-anchor="end">15</text>
<line x1="39.30" y1="455.20" x2="41.50" y2="455.20" stroke="#000" stroke-width="1.0"/>
<text x="36.50" y="461.50" font-size="9.3" text-anchor="end">20</text>
<line x1="41.50" y1="541.20" x2="145.50" y2="541.20" stroke="#000" stroke-width="1.3"/>
<line x1="60.30" y1="504.90" x2="60.30" y2="495.70" stroke="#000" stroke-width="1.2"/>
<rect x="50.60" y="505.50" width="19.40" height="35.70" fill="#fff" stroke="#000" stroke-width="1.2"/>
<line x1="84.10" y1="468.30" x2="84.10" y2="453.00" stroke="#000" stroke-width="1.2"/>
<rect x="73.40" y="468.90" width="21.40" height="72.30" fill="#000" stroke="#000" stroke-width="1.2"/>
<line x1="108.40" y1="489.60" x2="108.40" y2="474.60" stroke="#000" stroke-width="1.2"/>
<rect x="98.10" y="490.20" width="20.60" height="51.00" fill="#000" stroke="#000" stroke-width="1.2"/>
<line x1="131.80" y1="501.10" x2="131.80" y2="492.80" stroke="#000" stroke-width="1.2"/>
<rect x="121.60" y="501.70" width="20.40" height="39.50" fill="#000" stroke="#000" stroke-width="1.2"/>
<text x="25.60" y="487.30" font-size="9.2" text-anchor="middle" transform="rotate(-90 25.60 487.30)">AnnexinV<tspan font-size="5.6" dy="-3.6">+</tspan><tspan dy="3.6"> cells (%)</tspan></text>
<text x="67.30" y="546.30" font-size="9.0" text-anchor="end" font-style="italic" transform="rotate(-90 67.30 546.30)">wt</text>
<text x="91.30" y="546.30" font-size="9.0" text-anchor="end" font-style="italic" transform="rotate(-90 91.30 546.30)">wt</text>
<text x="115.40" y="546.30" font-size="9.0" text-anchor="end" font-style="italic" transform="rotate(-90 115.40 546.30)">bad<tspan font-size="5.2" dy="-3.3">-/-</tspan></text>
<text x="138.50" y="546.30" font-size="9.0" text-anchor="end" font-style="italic" transform="rotate(-90 138.50 546.30)">bmf<tspan font-size="5.2" dy="-3.3">-/-</tspan></text>
<rect x="44.90" y="439.40" width="4.20" height="4.20" fill="#fff" stroke="#000" stroke-width="1.2"/>
<text x="51.10" y="444.50" font-size="9.0"><tspan font-style="italic">myc</tspan> tg<tspan font-size="5.6" dy="-3.6">-</tspan></text>
<rect x="44.30" y="450.70" width="5.20" height="5.80" fill="#000" stroke="none" stroke-width="0"/>
<text x="51.10" y="456.80" font-size="9.0"><tspan font-style="italic">myc</tspan> tg<tspan font-size="5.6" dy="-3.6">+</tspan></text>
<polyline points="84.60,438.00 84.60,434.70 110.00,434.70 110.00,438.00" fill="none" stroke="#000" stroke-width="0.8"/>
<text x="98.20" y="437.59" font-size="9.0" text-anchor="middle">*</text>
<polyline points="84.60,452.00 84.60,446.50 134.00,446.50 134.00,452.00" fill="none" stroke="#000" stroke-width="0.8"/>
<text x="111.50" y="448.89" font-size="9.0" text-anchor="middle">**</text>
<text x="162.50" y="426.80" font-size="12.5" font-weight="bold">D</text>
<text x="198.00" y="427.30" font-size="8.8">BM CD19<tspan font-size="5.6" dy="-3.6">+</tspan><tspan dy="3.6">IgM</tspan><tspan font-size="5.6" dy="-3.6">-</tspan></text>
<line x1="191.20" y1="436.40" x2="191.20" y2="542.55" stroke="#000" stroke-width="1.3"/>
<line x1="189.00" y1="541.90" x2="191.20" y2="541.90" stroke="#000" stroke-width="1.0"/>
<text x="186.40" y="546.30" font-size="8.0" text-anchor="end">0</text>
<line x1="189.00" y1="524.40" x2="191.20" y2="524.40" stroke="#000" stroke-width="1.0"/>
<text x="186.40" y="528.80" font-size="8.0" text-anchor="end">10</text>
<line x1="189.00" y1="506.90" x2="191.20" y2="506.90" stroke="#000" stroke-width="1.0"/>
<text x="186.40" y="511.30" font-size="8.0" text-anchor="end">20</text>
<line x1="189.00" y1="489.40" x2="191.20" y2="489.40" stroke="#000" stroke-width="1.0"/>
<text x="186.40" y="493.80" font-size="8.0" text-anchor="end">30</text>
<line x1="189.00" y1="471.90" x2="191.20" y2="471.90" stroke="#000" stroke-width="1.0"/>
<text x="186.40" y="476.30" font-size="8.0" text-anchor="end">40</text>
<line x1="189.00" y1="454.40" x2="191.20" y2="454.40" stroke="#000" stroke-width="1.0"/>
<text x="186.40" y="458.80" font-size="8.0" text-anchor="end">50</text>
<line x1="189.00" y1="436.90" x2="191.20" y2="436.90" stroke="#000" stroke-width="1.0"/>
<text x="186.40" y="441.30" font-size="8.0" text-anchor="end">60</text>
<line x1="189.60" y1="533.15" x2="191.20" y2="533.15" stroke="#000" stroke-width="0.9"/>
<line x1="189.60" y1="515.65" x2="191.20" y2="515.65" stroke="#000" stroke-width="0.9"/>
<line x1="189.60" y1="498.15" x2="191.20" y2="498.15" stroke="#000" stroke-width="0.9"/>
<line x1="189.60" y1="480.65" x2="191.20" y2="480.65" stroke="#000" stroke-width="0.9"/>
<line x1="189.60" y1="463.15" x2="191.20" y2="463.15" stroke="#000" stroke-width="0.9"/>
<line x1="189.60" y1="445.65" x2="191.20" y2="445.65" stroke="#000" stroke-width="0.9"/>
<line x1="191.20" y1="542.00" x2="323.50" y2="542.00" stroke="#000" stroke-width="1.3"/>
<line x1="208.88" y1="503.10" x2="208.88" y2="491.25" stroke="#000" stroke-width="1.2"/>
<rect x="200.90" y="503.75" width="15.95" height="38.25" fill="#fff" stroke="#000" stroke-width="1.3"/>
<rect x="220.05" y="495.65" width="14.90" height="46.35" fill="#fff" stroke="#000" stroke-width="1.3"/>
<line x1="246.43" y1="505.25" x2="246.43" y2="501.25" stroke="#000" stroke-width="1.2"/>
<rect x="238.75" y="505.90" width="15.35" height="36.10" fill="#fff" stroke="#000" stroke-width="1.3"/>
<line x1="265.75" y1="450.70" x2="265.75" y2="448.10" stroke="#000" stroke-width="1.2"/>
<line x1="264.85" y1="448.10" x2="266.65" y2="448.10" stroke="#000" stroke-width="1.2"/>
<rect x="257.55" y="451.35" width="16.40" height="90.65" fill="#000" stroke="#000" stroke-width="1.3"/>
<line x1="284.45" y1="452.20" x2="284.45" y2="446.10" stroke="#000" stroke-width="1.2"/>
<line x1="283.55" y1="446.10" x2="285.35" y2="446.10" stroke="#000" stroke-width="1.2"/>
<rect x="276.45" y="452.85" width="16.00" height="89.15" fill="#000" stroke="#000" stroke-width="1.3"/>
<line x1="303.45" y1="448.50" x2="303.45" y2="443.50" stroke="#000" stroke-width="1.2"/>
<line x1="302.55" y1="443.50" x2="304.35" y2="443.50" stroke="#000" stroke-width="1.2"/>
<rect x="295.25" y="449.15" width="16.40" height="92.85" fill="#000" stroke="#000" stroke-width="1.3"/>
<text x="170.80" y="479.30" font-size="8.9" text-anchor="middle" transform="rotate(-90 170.80 479.30)">BrdU<tspan font-size="5.6" dy="-3.6">+</tspan><tspan dy="3.6"> cells (%)</tspan></text>
<text x="213.75" y="546.30" font-size="7.8" text-anchor="end" font-style="italic" transform="rotate(-90 213.75 546.30)">wt</text>
<text x="233.00" y="546.30" font-size="7.8" text-anchor="end" font-style="italic" transform="rotate(-90 233.00 546.30)">bad<tspan font-size="4.6" dy="-3.0">-/-</tspan></text>
<text x="251.25" y="546.30" font-size="7.8" text-anchor="end" font-style="italic" transform="rotate(-90 251.25 546.30)">bmf<tspan font-size="4.6" dy="-3.0">-/-</tspan></text>
<text x="270.00" y="546.30" font-size="7.8" text-anchor="end" font-style="italic" transform="rotate(-90 270.00 546.30)">wt</text>
<text x="288.00" y="546.30" font-size="7.8" text-anchor="end" font-style="italic" transform="rotate(-90 288.00 546.30)">bad<tspan font-size="4.6" dy="-3.0">-/-</tspan></text>
<text x="307.50" y="546.30" font-size="7.8" text-anchor="end" font-style="italic" transform="rotate(-90 307.50 546.30)">bmf<tspan font-size="4.6" dy="-3.0">-/-</tspan></text>
<rect x="196.05" y="437.15" width="5.60" height="6.40" fill="#fff" stroke="#000" stroke-width="1.3"/>
<text x="208.20" y="444.50" font-size="9.2"><tspan font-style="italic">myc</tspan> tg<tspan font-size="5.6" dy="-3.6">-</tspan></text>
<rect x="195.40" y="451.90" width="6.90" height="6.90" fill="#000" stroke="none" stroke-width="0"/>
<text x="208.20" y="459.60" font-size="9.2"><tspan font-style="italic">myc</tspan> tg<tspan font-size="5.6" dy="-3.6">+</tspan></text>
<text x="361.20" y="428.80" font-size="8.6">Spleen CD19<tspan font-size="5.6" dy="-3.6">+</tspan><tspan dy="3.6">IgM</tspan><tspan font-size="5.6" dy="-3.6">+</tspan></text>
<line x1="353.60" y1="431.90" x2="353.60" y2="542.85" stroke="#000" stroke-width="1.3"/>
<line x1="351.40" y1="542.20" x2="353.60" y2="542.20" stroke="#000" stroke-width="1.0"/>
<text x="350.40" y="546.80" font-size="8.2" text-anchor="end">0</text>
<line x1="351.40" y1="520.20" x2="353.60" y2="520.20" stroke="#000" stroke-width="1.0"/>
<text x="350.40" y="524.80" font-size="8.2" text-anchor="end">5</text>
<line x1="351.40" y1="498.20" x2="353.60" y2="498.20" stroke="#000" stroke-width="1.0"/>
<text x="350.40" y="502.80" font-size="8.2" text-anchor="end">10</text>
<line x1="351.40" y1="476.20" x2="353.60" y2="476.20" stroke="#000" stroke-width="1.0"/>
<text x="350.40" y="480.80" font-size="8.2" text-anchor="end">15</text>
<line x1="351.40" y1="454.20" x2="353.60" y2="454.20" stroke="#000" stroke-width="1.0"/>
<text x="350.40" y="458.80" font-size="8.2" text-anchor="end">20</text>
<line x1="351.40" y1="432.20" x2="353.60" y2="432.20" stroke="#000" stroke-width="1.0"/>
<text x="350.40" y="436.80" font-size="8.2" text-anchor="end">25</text>
<line x1="353.60" y1="542.20" x2="486.00" y2="542.20" stroke="#000" stroke-width="1.3"/>
<line x1="371.70" y1="529.00" x2="371.70" y2="522.10" stroke="#000" stroke-width="1.3"/>
<rect x="364.25" y="529.65" width="14.90" height="12.55" fill="#fff" stroke="#000" stroke-width="1.3"/>
<line x1="390.15" y1="532.50" x2="390.15" y2="526.10" stroke="#000" stroke-width="1.3"/>
<rect x="382.75" y="533.15" width="14.80" height="9.05" fill="#fff" stroke="#000" stroke-width="1.3"/>
<rect x="401.95" y="535.15" width="15.60" height="7.05" fill="#fff" stroke="#000" stroke-width="1.3"/>
<line x1="428.45" y1="470.90" x2="428.45" y2="445.00" stroke="#000" stroke-width="1.3"/>
<rect x="420.45" y="471.55" width="16.00" height="70.65" fill="#000" stroke="#000" stroke-width="1.3"/>
<line x1="447.65" y1="455.10" x2="447.65" y2="435.10" stroke="#000" stroke-width="1.3"/>
<rect x="439.85" y="455.75" width="15.60" height="86.45" fill="#000" stroke="#000" stroke-width="1.3"/>
<line x1="466.60" y1="494.00" x2="466.60" y2="475.50" stroke="#000" stroke-width="1.3"/>
<rect x="458.85" y="494.65" width="15.50" height="47.55" fill="#000" stroke="#000" stroke-width="1.3"/>
<text x="334.40" y="477.00" font-size="8.5" text-anchor="middle" transform="rotate(-90 334.40 477.00)">BrdU<tspan font-size="5.6" dy="-3.6">+</tspan><tspan dy="3.6"> cells (%)</tspan></text>
<text x="375.20" y="546.90" font-size="7.8" text-anchor="end" font-style="italic" transform="rotate(-90 375.20 546.90)">wt</text>
<text x="393.60" y="546.90" font-size="7.8" text-anchor="end" font-style="italic" transform="rotate(-90 393.60 546.90)">bad<tspan font-size="4.6" dy="-3.0">-/-</tspan></text>
<text x="413.00" y="546.90" font-size="7.8" text-anchor="end" font-style="italic" transform="rotate(-90 413.00 546.90)">bmf<tspan font-size="4.6" dy="-3.0">-/-</tspan></text>
<text x="432.00" y="546.90" font-size="7.8" text-anchor="end" font-style="italic" transform="rotate(-90 432.00 546.90)">wt</text>
<text x="451.00" y="546.90" font-size="7.8" text-anchor="end" font-style="italic" transform="rotate(-90 451.00 546.90)">bad<tspan font-size="4.6" dy="-3.0">-/-</tspan></text>
<text x="470.00" y="546.90" font-size="7.8" text-anchor="end" font-style="italic" transform="rotate(-90 470.00 546.90)">bmf<tspan font-size="4.6" dy="-3.0">-/-</tspan></text>
<rect x="359.35" y="434.45" width="5.40" height="5.90" fill="#fff" stroke="#000" stroke-width="1.3"/>
<text x="370.80" y="441.00" font-size="9.0"><tspan font-style="italic">myc</tspan> tg<tspan font-size="5.6" dy="-3.6">-</tspan></text>
<rect x="358.70" y="450.60" width="6.70" height="6.30" fill="#000" stroke="none" stroke-width="0"/>
<text x="370.80" y="457.30" font-size="9.0"><tspan font-style="italic">myc</tspan> tg<tspan font-size="5.6" dy="-3.6">+</tspan></text>
</svg>
</body></html>
